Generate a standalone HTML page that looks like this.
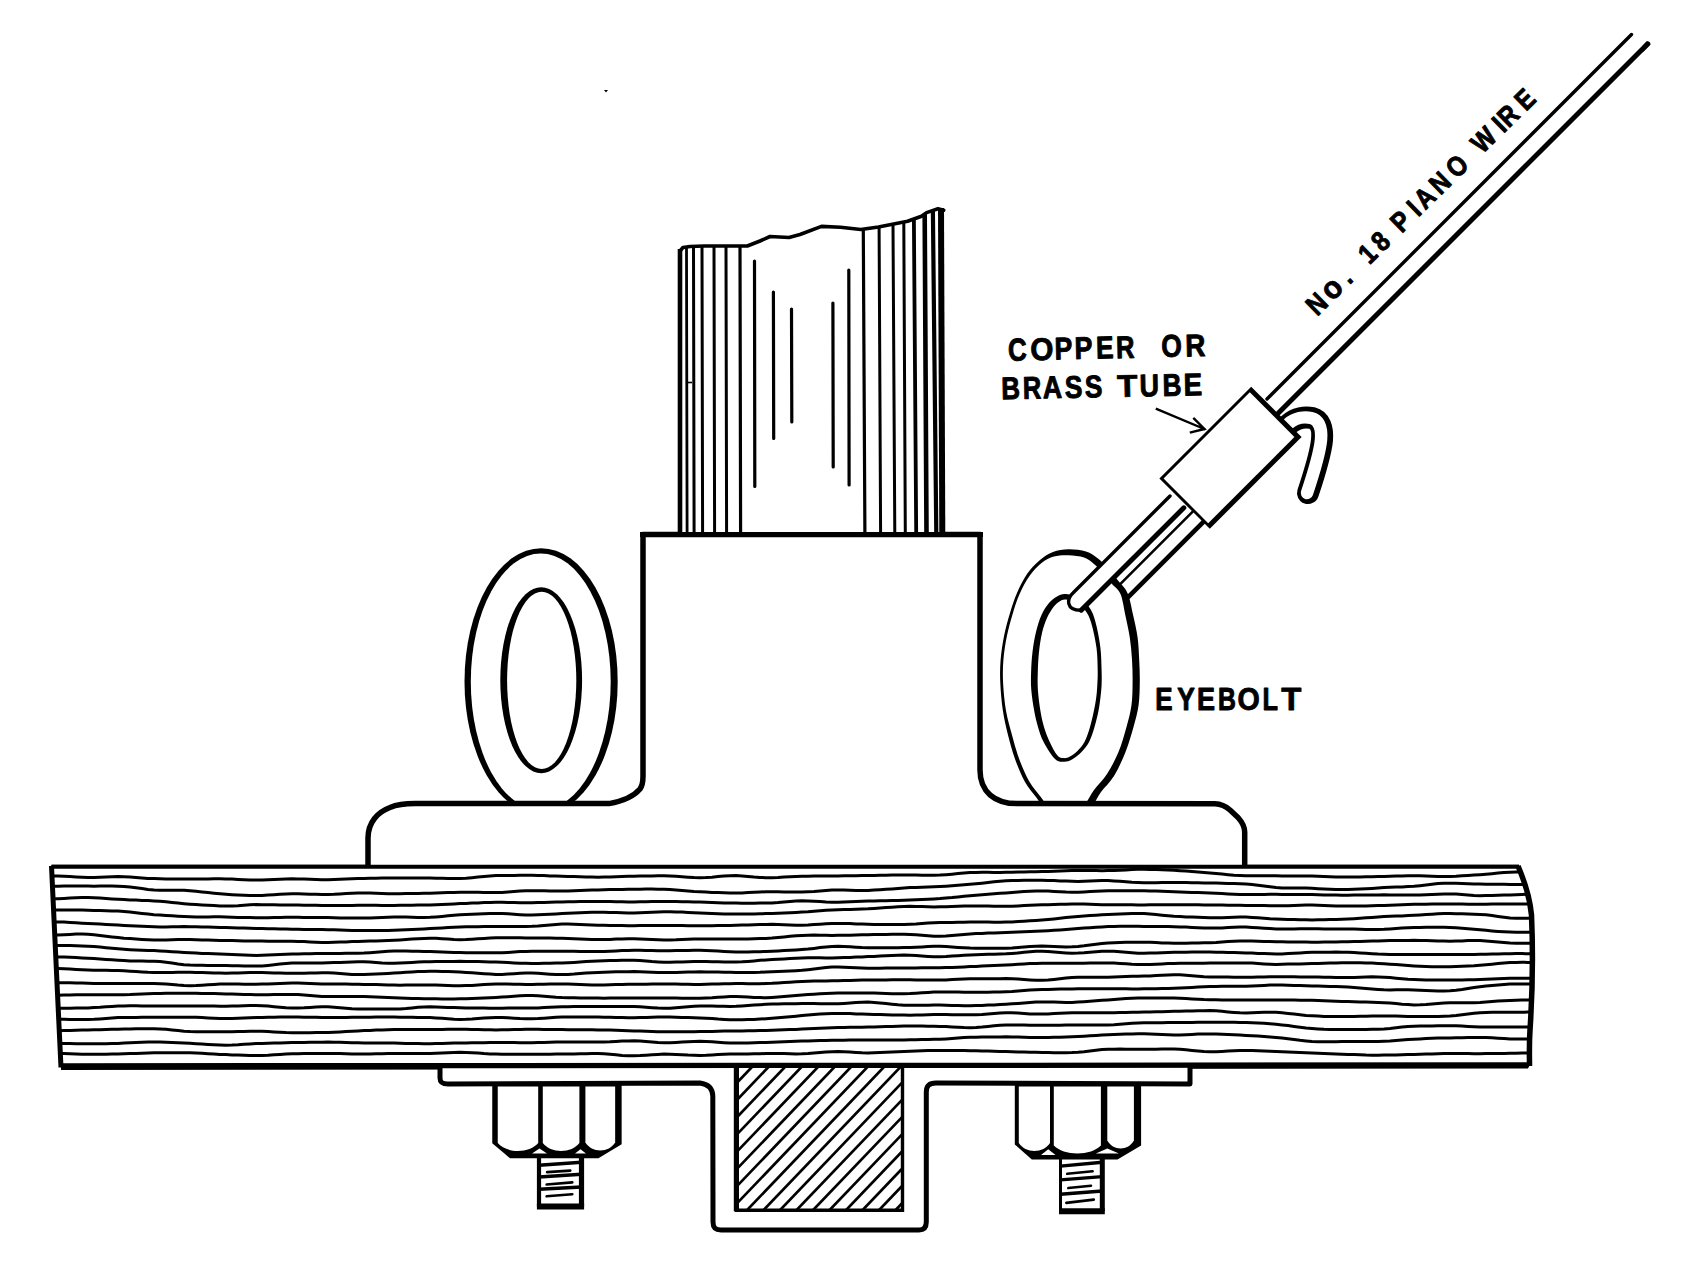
<!DOCTYPE html><html><head><meta charset="utf-8"><title>Eyebolt wire diagram</title><style>html,body{margin:0;padding:0;background:#fff;}svg{display:block;}text{font-family:"Liberation Sans",sans-serif;}</style></head><body><svg width="1694" height="1264" viewBox="0 0 1694 1264"><rect width="1694" height="1264" fill="#fff"/><path d="M51.5,866 L1518,866 C1524,880 1530,898 1531.5,915 C1533,950 1532,1000 1530,1030 C1529,1045 1529.5,1055 1529.5,1066 L61,1067.5 C58,1000 54,930 51.5,866 Z" fill="#fff" stroke="none"/>
<clipPath id="pc"><path d="M51.5,866 L1518,866 C1524,880 1530,898 1531.5,915 C1533,950 1532,1000 1530,1030 C1529,1045 1529.5,1055 1529.5,1066 L61,1067.5 C58,1000 54,930 51.5,866 Z"/></clipPath>
<g clip-path="url(#pc)" fill="none" stroke="#000" stroke-width="3" stroke-linejoin="round"><path d="M40.0,875.9 L46.0,875.9 L52.0,875.9 L58.0,875.9 L64.0,876.2 L70.0,876.5 L76.0,876.9 L82.0,877.2 L88.0,877.4 L94.0,877.4 L100.0,877.2 L106.0,877.0 L112.0,876.7 L118.0,876.6 L124.0,876.8 L130.0,877.1 L136.0,877.5 L142.0,878.0 L148.0,878.4 L154.0,878.6 L160.0,878.8 L166.0,878.9 L172.0,878.9 L178.0,879.0 L184.0,879.0 L190.0,879.0 L196.0,879.0 L202.0,879.0 L208.0,878.9 L214.0,878.8 L220.0,878.8 L226.0,878.9 L232.0,879.1 L238.0,879.4 L244.0,879.7 L250.0,880.0 L256.0,880.1 L262.0,880.1 L268.0,879.8 L274.0,879.5 L280.0,879.2 L286.0,878.9 L292.0,878.8 L298.0,878.9 L304.0,879.1 L310.0,879.3 L316.0,879.5 L322.0,879.7 L328.0,879.7 L334.0,879.5 L340.0,879.3 L346.0,879.0 L352.0,878.7 L358.0,878.5 L364.0,878.4 L370.0,878.3 L376.0,878.3 L382.0,878.1 L388.0,878.0 L394.0,877.9 L400.0,877.9 L406.0,877.9 L412.0,877.9 L418.0,877.9 L424.0,878.0 L430.0,878.1 L436.0,878.2 L442.0,878.3 L448.0,878.4 L454.0,878.4 L460.0,878.4 L466.0,878.2 L472.0,877.7 L478.0,877.1 L484.0,876.5 L490.0,875.9 L496.0,875.6 L502.0,875.5 L508.0,875.4 L514.0,875.4 L520.0,875.3 L526.0,875.3 L532.0,875.3 L538.0,875.4 L544.0,875.6 L550.0,875.9 L556.0,876.1 L562.0,876.3 L568.0,876.4 L574.0,876.6 L580.0,876.8 L586.0,877.0 L592.0,877.1 L598.0,877.2 L604.0,877.1 L610.0,876.9 L616.0,876.7 L622.0,876.5 L628.0,876.3 L634.0,876.2 L640.0,876.0 L646.0,875.9 L652.0,875.9 L658.0,875.8 L664.0,875.8 L670.0,876.0 L676.0,876.3 L682.0,876.7 L688.0,877.2 L694.0,877.6 L700.0,877.8 L706.0,877.6 L712.0,877.2 L718.0,876.6 L724.0,876.1 L730.0,875.7 L736.0,875.6 L742.0,875.9 L748.0,876.4 L754.0,877.0 L760.0,877.4 L766.0,877.7 L772.0,877.7 L778.0,877.5 L784.0,877.1 L790.0,876.8 L796.0,876.4 L802.0,876.3 L808.0,876.2 L814.0,876.1 L820.0,876.0 L826.0,875.9 L832.0,875.9 L838.0,875.9 L844.0,875.8 L850.0,875.8 L856.0,875.7 L862.0,875.6 L868.0,875.5 L874.0,875.4 L880.0,875.3 L886.0,875.2 L892.0,875.1 L898.0,875.0 L904.0,875.0 L910.0,875.0 L916.0,875.0 L922.0,875.2 L928.0,875.3 L934.0,875.3 L940.0,875.1 L946.0,874.7 L952.0,874.2 L958.0,873.6 L964.0,873.0 L970.0,872.5 L976.0,872.4 L982.0,872.3 L988.0,872.3 L994.0,872.4 L1000.0,872.4 L1006.0,872.3 L1012.0,872.2 L1018.0,872.1 L1024.0,871.9 L1030.0,871.8 L1036.0,871.7 L1042.0,871.6 L1048.0,871.5 L1054.0,871.2 L1060.0,871.0 L1066.0,870.7 L1072.0,870.6 L1078.0,870.5 L1084.0,870.5 L1090.0,870.6 L1096.0,870.6 L1102.0,870.7 L1108.0,870.6 L1114.0,870.5 L1120.0,870.2 L1126.0,869.9 L1132.0,869.5 L1138.0,869.3 L1144.0,869.3 L1150.0,869.4 L1156.0,869.5 L1162.0,869.7 L1168.0,870.0 L1174.0,870.3 L1180.0,870.7 L1186.0,871.1 L1192.0,871.5 L1198.0,872.0 L1204.0,872.5 L1210.0,872.9 L1216.0,873.5 L1222.0,874.1 L1228.0,874.7 L1234.0,875.2 L1240.0,875.5 L1246.0,875.7 L1252.0,875.8 L1258.0,875.8 L1264.0,875.8 L1270.0,875.8 L1276.0,875.8 L1282.0,875.9 L1288.0,875.9 L1294.0,876.0 L1300.0,876.0 L1306.0,876.1 L1312.0,876.1 L1318.0,876.3 L1324.0,876.5 L1330.0,876.7 L1336.0,876.9 L1342.0,877.0 L1348.0,877.0 L1354.0,877.0 L1360.0,876.9 L1366.0,876.8 L1372.0,876.7 L1378.0,876.5 L1384.0,876.4 L1390.0,876.3 L1396.0,876.1 L1402.0,876.0 L1408.0,875.8 L1414.0,875.7 L1420.0,875.8 L1426.0,876.0 L1432.0,876.2 L1438.0,876.4 L1444.0,876.5 L1450.0,876.4 L1456.0,876.2 L1462.0,875.8 L1468.0,875.5 L1474.0,875.1 L1480.0,874.7 L1486.0,874.2 L1492.0,873.7 L1498.0,873.1 L1504.0,872.6 L1510.0,872.2 L1516.0,872.0 L1522.0,872.0 L1528.0,872.0 L1534.0,872.2 L1540.0,872.3"/><path d="M40.0,886.0 L46.0,886.1 L52.0,886.2 L58.0,886.2 L64.0,886.1 L70.0,886.1 L76.0,886.1 L82.0,886.1 L88.0,886.1 L94.0,886.2 L100.0,886.1 L106.0,886.1 L112.0,886.1 L118.0,886.3 L124.0,886.6 L130.0,887.1 L136.0,887.8 L142.0,888.6 L148.0,889.4 L154.0,889.9 L160.0,890.2 L166.0,890.3 L172.0,890.2 L178.0,890.2 L184.0,890.3 L190.0,890.7 L196.0,891.3 L202.0,891.9 L208.0,892.6 L214.0,893.2 L220.0,893.8 L226.0,894.3 L232.0,894.7 L238.0,895.0 L244.0,895.2 L250.0,895.4 L256.0,895.5 L262.0,895.4 L268.0,895.1 L274.0,894.7 L280.0,894.3 L286.0,893.9 L292.0,893.8 L298.0,893.8 L304.0,894.0 L310.0,894.2 L316.0,894.3 L322.0,894.5 L328.0,894.4 L334.0,894.3 L340.0,893.9 L346.0,893.6 L352.0,893.2 L358.0,893.0 L364.0,892.9 L370.0,893.1 L376.0,893.3 L382.0,893.6 L388.0,893.8 L394.0,893.8 L400.0,893.7 L406.0,893.6 L412.0,893.5 L418.0,893.4 L424.0,893.3 L430.0,893.2 L436.0,893.0 L442.0,892.8 L448.0,892.6 L454.0,892.4 L460.0,892.2 L466.0,892.2 L472.0,892.2 L478.0,892.3 L484.0,892.5 L490.0,892.6 L496.0,892.6 L502.0,892.4 L508.0,892.0 L514.0,891.6 L520.0,891.1 L526.0,890.8 L532.0,890.7 L538.0,890.7 L544.0,890.8 L550.0,891.0 L556.0,891.1 L562.0,891.1 L568.0,890.9 L574.0,890.7 L580.0,890.5 L586.0,890.3 L592.0,890.0 L598.0,889.9 L604.0,889.7 L610.0,889.6 L616.0,889.5 L622.0,889.4 L628.0,889.3 L634.0,889.2 L640.0,889.2 L646.0,889.1 L652.0,889.1 L658.0,889.2 L664.0,889.3 L670.0,889.5 L676.0,889.9 L682.0,890.4 L688.0,890.9 L694.0,891.4 L700.0,891.7 L706.0,892.1 L712.0,892.4 L718.0,892.6 L724.0,892.8 L730.0,893.0 L736.0,893.0 L742.0,892.9 L748.0,892.6 L754.0,892.3 L760.0,892.0 L766.0,891.8 L772.0,891.7 L778.0,891.8 L784.0,891.9 L790.0,891.9 L796.0,892.0 L802.0,891.9 L808.0,891.7 L814.0,891.4 L820.0,890.9 L826.0,890.4 L832.0,890.0 L838.0,889.9 L844.0,890.0 L850.0,890.2 L856.0,890.5 L862.0,890.6 L868.0,890.5 L874.0,890.1 L880.0,889.7 L886.0,889.3 L892.0,888.9 L898.0,888.4 L904.0,888.0 L910.0,887.6 L916.0,887.4 L922.0,887.2 L928.0,887.0 L934.0,886.8 L940.0,886.5 L946.0,886.2 L952.0,885.8 L958.0,885.3 L964.0,884.8 L970.0,884.3 L976.0,883.8 L982.0,883.2 L988.0,882.5 L994.0,881.8 L1000.0,881.2 L1006.0,880.8 L1012.0,880.6 L1018.0,880.4 L1024.0,880.2 L1030.0,880.2 L1036.0,880.2 L1042.0,880.2 L1048.0,880.4 L1054.0,880.6 L1060.0,880.9 L1066.0,881.1 L1072.0,881.3 L1078.0,881.4 L1084.0,881.2 L1090.0,881.0 L1096.0,880.7 L1102.0,880.6 L1108.0,880.6 L1114.0,880.9 L1120.0,881.3 L1126.0,881.7 L1132.0,882.2 L1138.0,882.5 L1144.0,882.7 L1150.0,882.7 L1156.0,882.7 L1162.0,882.6 L1168.0,882.5 L1174.0,882.5 L1180.0,882.6 L1186.0,882.6 L1192.0,882.7 L1198.0,882.8 L1204.0,882.9 L1210.0,883.0 L1216.0,883.1 L1222.0,883.3 L1228.0,883.4 L1234.0,883.5 L1240.0,883.7 L1246.0,883.9 L1252.0,884.4 L1258.0,885.2 L1264.0,886.0 L1270.0,886.8 L1276.0,887.5 L1282.0,887.9 L1288.0,888.1 L1294.0,888.1 L1300.0,888.1 L1306.0,888.1 L1312.0,888.3 L1318.0,888.7 L1324.0,889.0 L1330.0,889.2 L1336.0,889.4 L1342.0,889.5 L1348.0,889.5 L1354.0,889.3 L1360.0,889.1 L1366.0,888.8 L1372.0,888.4 L1378.0,888.0 L1384.0,887.6 L1390.0,887.3 L1396.0,887.1 L1402.0,886.9 L1408.0,886.6 L1414.0,886.3 L1420.0,885.7 L1426.0,885.0 L1432.0,884.3 L1438.0,883.6 L1444.0,883.3 L1450.0,883.2 L1456.0,883.3 L1462.0,883.5 L1468.0,883.8 L1474.0,884.0 L1480.0,884.1 L1486.0,884.2 L1492.0,884.3 L1498.0,884.3 L1504.0,884.3 L1510.0,884.4 L1516.0,884.4 L1522.0,884.5 L1528.0,884.6 L1534.0,884.8 L1540.0,885.0"/><path d="M40.0,898.7 L46.0,898.7 L52.0,898.7 L58.0,898.7 L64.0,898.4 L70.0,898.1 L76.0,897.7 L82.0,897.5 L88.0,897.6 L94.0,897.8 L100.0,898.1 L106.0,898.5 L112.0,898.9 L118.0,899.2 L124.0,899.6 L130.0,899.9 L136.0,900.1 L142.0,900.4 L148.0,900.6 L154.0,900.9 L160.0,901.2 L166.0,901.7 L172.0,902.4 L178.0,903.1 L184.0,903.7 L190.0,904.2 L196.0,904.6 L202.0,904.9 L208.0,905.3 L214.0,905.6 L220.0,905.9 L226.0,906.1 L232.0,906.0 L238.0,905.7 L244.0,905.2 L250.0,904.8 L256.0,904.6 L262.0,904.7 L268.0,904.7 L274.0,904.8 L280.0,904.9 L286.0,905.0 L292.0,905.0 L298.0,905.1 L304.0,905.2 L310.0,905.3 L316.0,905.3 L322.0,905.4 L328.0,905.4 L334.0,905.4 L340.0,905.4 L346.0,905.4 L352.0,905.4 L358.0,905.3 L364.0,905.3 L370.0,905.3 L376.0,905.3 L382.0,905.4 L388.0,905.4 L394.0,905.4 L400.0,905.3 L406.0,905.3 L412.0,905.2 L418.0,905.1 L424.0,905.0 L430.0,904.9 L436.0,904.7 L442.0,904.5 L448.0,904.2 L454.0,903.9 L460.0,903.6 L466.0,903.4 L472.0,903.1 L478.0,902.9 L484.0,902.6 L490.0,902.4 L496.0,902.3 L502.0,902.3 L508.0,902.4 L514.0,902.6 L520.0,902.7 L526.0,902.8 L532.0,902.7 L538.0,902.6 L544.0,902.5 L550.0,902.3 L556.0,902.1 L562.0,902.0 L568.0,901.8 L574.0,901.7 L580.0,901.6 L586.0,901.6 L592.0,901.5 L598.0,901.5 L604.0,901.5 L610.0,901.6 L616.0,901.7 L622.0,901.8 L628.0,901.9 L634.0,901.9 L640.0,901.8 L646.0,901.7 L652.0,901.6 L658.0,901.5 L664.0,901.5 L670.0,901.6 L676.0,901.6 L682.0,901.7 L688.0,901.8 L694.0,901.9 L700.0,902.1 L706.0,902.3 L712.0,902.5 L718.0,902.7 L724.0,902.9 L730.0,903.0 L736.0,903.1 L742.0,903.2 L748.0,903.2 L754.0,903.2 L760.0,903.1 L766.0,903.1 L772.0,902.9 L778.0,902.6 L784.0,902.1 L790.0,901.5 L796.0,901.1 L802.0,900.8 L808.0,900.9 L814.0,901.2 L820.0,901.6 L826.0,902.0 L832.0,902.2 L838.0,902.2 L844.0,902.0 L850.0,901.8 L856.0,901.6 L862.0,901.3 L868.0,901.1 L874.0,900.9 L880.0,900.8 L886.0,900.7 L892.0,900.5 L898.0,900.4 L904.0,900.2 L910.0,900.0 L916.0,899.7 L922.0,899.5 L928.0,899.2 L934.0,898.9 L940.0,898.6 L946.0,898.1 L952.0,897.6 L958.0,896.9 L964.0,896.3 L970.0,895.7 L976.0,895.2 L982.0,894.7 L988.0,894.2 L994.0,893.8 L1000.0,893.3 L1006.0,892.9 L1012.0,892.5 L1018.0,892.0 L1024.0,891.5 L1030.0,891.2 L1036.0,890.9 L1042.0,890.9 L1048.0,891.1 L1054.0,891.4 L1060.0,891.7 L1066.0,892.1 L1072.0,892.2 L1078.0,892.2 L1084.0,891.9 L1090.0,891.6 L1096.0,891.2 L1102.0,890.9 L1108.0,890.8 L1114.0,890.8 L1120.0,890.8 L1126.0,890.8 L1132.0,890.8 L1138.0,890.8 L1144.0,890.8 L1150.0,890.9 L1156.0,891.1 L1162.0,891.3 L1168.0,891.5 L1174.0,891.8 L1180.0,892.0 L1186.0,892.2 L1192.0,892.4 L1198.0,892.6 L1204.0,892.8 L1210.0,893.0 L1216.0,893.3 L1222.0,893.6 L1228.0,893.9 L1234.0,894.2 L1240.0,894.4 L1246.0,894.5 L1252.0,894.5 L1258.0,894.5 L1264.0,894.4 L1270.0,894.3 L1276.0,894.3 L1282.0,894.4 L1288.0,894.4 L1294.0,894.5 L1300.0,894.5 L1306.0,894.6 L1312.0,894.6 L1318.0,894.7 L1324.0,894.9 L1330.0,895.0 L1336.0,895.1 L1342.0,895.2 L1348.0,895.2 L1354.0,895.1 L1360.0,895.1 L1366.0,895.0 L1372.0,894.9 L1378.0,894.9 L1384.0,894.8 L1390.0,894.9 L1396.0,895.0 L1402.0,895.1 L1408.0,895.1 L1414.0,895.1 L1420.0,895.0 L1426.0,894.7 L1432.0,894.4 L1438.0,894.2 L1444.0,894.0 L1450.0,893.9 L1456.0,894.1 L1462.0,894.5 L1468.0,895.0 L1474.0,895.5 L1480.0,895.7 L1486.0,895.6 L1492.0,895.5 L1498.0,895.3 L1504.0,895.1 L1510.0,894.9 L1516.0,894.7 L1522.0,894.5 L1528.0,894.3 L1534.0,894.1 L1540.0,893.9"/><path d="M40.0,909.8 L46.0,909.9 L52.0,909.9 L58.0,909.9 L64.0,909.9 L70.0,909.9 L76.0,910.0 L82.0,910.1 L88.0,910.3 L94.0,910.5 L100.0,910.6 L106.0,910.7 L112.0,910.9 L118.0,911.1 L124.0,911.4 L130.0,912.0 L136.0,912.7 L142.0,913.4 L148.0,914.1 L154.0,914.7 L160.0,915.1 L166.0,915.5 L172.0,915.8 L178.0,916.2 L184.0,916.5 L190.0,916.8 L196.0,917.0 L202.0,917.0 L208.0,916.9 L214.0,916.8 L220.0,916.8 L226.0,917.0 L232.0,917.2 L238.0,917.4 L244.0,917.5 L250.0,917.6 L256.0,917.7 L262.0,917.8 L268.0,917.7 L274.0,917.6 L280.0,917.4 L286.0,917.3 L292.0,917.3 L298.0,917.3 L304.0,917.4 L310.0,917.5 L316.0,917.5 L322.0,917.6 L328.0,917.6 L334.0,917.8 L340.0,917.9 L346.0,918.1 L352.0,918.1 L358.0,918.1 L364.0,918.0 L370.0,917.9 L376.0,917.7 L382.0,917.5 L388.0,917.2 L394.0,917.0 L400.0,917.0 L406.0,917.1 L412.0,917.2 L418.0,917.4 L424.0,917.5 L430.0,917.3 L436.0,916.9 L442.0,916.4 L448.0,915.8 L454.0,915.3 L460.0,914.8 L466.0,914.5 L472.0,914.3 L478.0,914.0 L484.0,913.8 L490.0,913.6 L496.0,913.4 L502.0,913.4 L508.0,913.8 L514.0,914.3 L520.0,914.7 L526.0,915.0 L532.0,915.0 L538.0,914.8 L544.0,914.5 L550.0,914.2 L556.0,913.9 L562.0,913.6 L568.0,913.3 L574.0,913.0 L580.0,912.7 L586.0,912.5 L592.0,912.3 L598.0,912.2 L604.0,912.2 L610.0,912.4 L616.0,912.6 L622.0,912.8 L628.0,913.0 L634.0,913.0 L640.0,912.8 L646.0,912.5 L652.0,912.2 L658.0,911.9 L664.0,911.7 L670.0,911.7 L676.0,911.9 L682.0,912.1 L688.0,912.4 L694.0,912.7 L700.0,913.0 L706.0,913.2 L712.0,913.5 L718.0,913.8 L724.0,914.0 L730.0,914.1 L736.0,914.1 L742.0,914.1 L748.0,914.0 L754.0,913.9 L760.0,913.8 L766.0,913.6 L772.0,913.4 L778.0,913.2 L784.0,913.0 L790.0,912.7 L796.0,912.4 L802.0,912.1 L808.0,911.8 L814.0,911.3 L820.0,910.8 L826.0,910.3 L832.0,910.0 L838.0,909.7 L844.0,909.6 L850.0,909.4 L856.0,909.2 L862.0,909.0 L868.0,908.8 L874.0,908.4 L880.0,908.0 L886.0,907.6 L892.0,907.2 L898.0,906.8 L904.0,906.4 L910.0,906.3 L916.0,906.4 L922.0,906.5 L928.0,906.7 L934.0,906.9 L940.0,906.8 L946.0,906.7 L952.0,906.4 L958.0,906.2 L964.0,906.0 L970.0,905.9 L976.0,905.9 L982.0,905.9 L988.0,906.1 L994.0,906.2 L1000.0,906.3 L1006.0,906.3 L1012.0,906.2 L1018.0,905.9 L1024.0,905.6 L1030.0,905.3 L1036.0,905.0 L1042.0,904.8 L1048.0,904.7 L1054.0,904.5 L1060.0,904.3 L1066.0,904.2 L1072.0,904.0 L1078.0,903.9 L1084.0,904.0 L1090.0,904.2 L1096.0,904.5 L1102.0,904.7 L1108.0,904.8 L1114.0,904.8 L1120.0,904.8 L1126.0,904.8 L1132.0,904.8 L1138.0,904.9 L1144.0,904.9 L1150.0,904.8 L1156.0,904.8 L1162.0,904.7 L1168.0,904.7 L1174.0,904.7 L1180.0,904.7 L1186.0,904.7 L1192.0,904.8 L1198.0,904.8 L1204.0,904.9 L1210.0,904.9 L1216.0,905.0 L1222.0,905.1 L1228.0,905.2 L1234.0,905.3 L1240.0,905.3 L1246.0,905.4 L1252.0,905.5 L1258.0,905.6 L1264.0,905.6 L1270.0,905.7 L1276.0,905.8 L1282.0,905.8 L1288.0,905.7 L1294.0,905.5 L1300.0,905.3 L1306.0,905.1 L1312.0,905.1 L1318.0,905.3 L1324.0,905.5 L1330.0,905.8 L1336.0,906.0 L1342.0,906.1 L1348.0,906.1 L1354.0,906.1 L1360.0,906.0 L1366.0,905.9 L1372.0,905.7 L1378.0,905.6 L1384.0,905.4 L1390.0,905.2 L1396.0,904.9 L1402.0,904.7 L1408.0,904.5 L1414.0,904.3 L1420.0,904.3 L1426.0,904.2 L1432.0,904.1 L1438.0,904.1 L1444.0,904.0 L1450.0,904.0 L1456.0,904.0 L1462.0,904.1 L1468.0,904.2 L1474.0,904.2 L1480.0,904.2 L1486.0,904.2 L1492.0,904.1 L1498.0,904.0 L1504.0,904.0 L1510.0,903.9 L1516.0,903.9 L1522.0,903.9 L1528.0,904.1 L1534.0,904.3 L1540.0,904.5"/><path d="M40.0,922.1 L46.0,921.9 L52.0,921.9 L58.0,921.9 L64.0,922.1 L70.0,922.4 L76.0,922.8 L82.0,923.2 L88.0,923.5 L94.0,923.8 L100.0,924.1 L106.0,924.4 L112.0,924.7 L118.0,925.0 L124.0,925.4 L130.0,925.7 L136.0,926.0 L142.0,926.3 L148.0,926.5 L154.0,926.7 L160.0,926.9 L166.0,926.9 L172.0,926.8 L178.0,926.7 L184.0,926.6 L190.0,926.7 L196.0,926.8 L202.0,927.0 L208.0,927.1 L214.0,927.3 L220.0,927.5 L226.0,927.6 L232.0,927.8 L238.0,928.0 L244.0,928.1 L250.0,928.3 L256.0,928.4 L262.0,928.6 L268.0,928.7 L274.0,928.8 L280.0,928.9 L286.0,929.1 L292.0,929.2 L298.0,929.3 L304.0,929.4 L310.0,929.5 L316.0,929.6 L322.0,929.6 L328.0,929.7 L334.0,929.8 L340.0,930.1 L346.0,930.3 L352.0,930.5 L358.0,930.6 L364.0,930.6 L370.0,930.6 L376.0,930.6 L382.0,930.5 L388.0,930.4 L394.0,930.2 L400.0,930.0 L406.0,929.7 L412.0,929.4 L418.0,929.2 L424.0,928.9 L430.0,928.6 L436.0,928.3 L442.0,928.0 L448.0,927.6 L454.0,927.2 L460.0,927.0 L466.0,926.8 L472.0,926.7 L478.0,926.7 L484.0,926.6 L490.0,926.6 L496.0,926.6 L502.0,926.5 L508.0,926.5 L514.0,926.5 L520.0,926.4 L526.0,926.4 L532.0,926.3 L538.0,926.0 L544.0,925.5 L550.0,924.9 L556.0,924.4 L562.0,924.1 L568.0,924.1 L574.0,924.2 L580.0,924.5 L586.0,924.8 L592.0,925.0 L598.0,925.2 L604.0,925.3 L610.0,925.4 L616.0,925.5 L622.0,925.6 L628.0,925.7 L634.0,925.7 L640.0,925.6 L646.0,925.6 L652.0,925.5 L658.0,925.5 L664.0,925.5 L670.0,925.5 L676.0,925.5 L682.0,925.6 L688.0,925.7 L694.0,925.7 L700.0,925.8 L706.0,925.8 L712.0,925.7 L718.0,925.6 L724.0,925.5 L730.0,925.4 L736.0,925.3 L742.0,925.1 L748.0,924.9 L754.0,924.7 L760.0,924.5 L766.0,924.4 L772.0,924.3 L778.0,924.5 L784.0,924.8 L790.0,925.0 L796.0,925.2 L802.0,925.2 L808.0,925.0 L814.0,924.6 L820.0,924.2 L826.0,923.8 L832.0,923.5 L838.0,923.4 L844.0,923.5 L850.0,923.6 L856.0,923.9 L862.0,924.1 L868.0,924.3 L874.0,924.4 L880.0,924.4 L886.0,924.5 L892.0,924.5 L898.0,924.5 L904.0,924.5 L910.0,924.3 L916.0,924.0 L922.0,923.5 L928.0,923.1 L934.0,922.8 L940.0,922.6 L946.0,922.5 L952.0,922.4 L958.0,922.3 L964.0,922.2 L970.0,922.0 L976.0,921.9 L982.0,921.9 L988.0,922.1 L994.0,922.2 L1000.0,922.3 L1006.0,922.1 L1012.0,921.9 L1018.0,921.6 L1024.0,921.2 L1030.0,920.8 L1036.0,920.4 L1042.0,920.0 L1048.0,919.5 L1054.0,918.9 L1060.0,918.2 L1066.0,917.5 L1072.0,916.9 L1078.0,916.5 L1084.0,916.1 L1090.0,915.6 L1096.0,915.2 L1102.0,914.8 L1108.0,914.5 L1114.0,914.2 L1120.0,914.0 L1126.0,913.8 L1132.0,913.6 L1138.0,913.6 L1144.0,913.6 L1150.0,914.0 L1156.0,914.5 L1162.0,915.2 L1168.0,915.8 L1174.0,916.3 L1180.0,916.6 L1186.0,916.9 L1192.0,917.1 L1198.0,917.3 L1204.0,917.6 L1210.0,917.8 L1216.0,917.8 L1222.0,917.7 L1228.0,917.5 L1234.0,917.2 L1240.0,917.0 L1246.0,917.1 L1252.0,917.4 L1258.0,917.8 L1264.0,918.3 L1270.0,918.8 L1276.0,919.1 L1282.0,919.3 L1288.0,919.5 L1294.0,919.6 L1300.0,919.7 L1306.0,919.8 L1312.0,919.9 L1318.0,919.8 L1324.0,919.7 L1330.0,919.6 L1336.0,919.4 L1342.0,919.2 L1348.0,919.0 L1354.0,918.7 L1360.0,918.3 L1366.0,917.8 L1372.0,917.4 L1378.0,917.0 L1384.0,916.6 L1390.0,916.3 L1396.0,916.1 L1402.0,915.9 L1408.0,915.6 L1414.0,915.3 L1420.0,915.0 L1426.0,914.6 L1432.0,914.2 L1438.0,913.8 L1444.0,913.6 L1450.0,913.6 L1456.0,913.7 L1462.0,913.8 L1468.0,914.0 L1474.0,914.2 L1480.0,914.5 L1486.0,914.8 L1492.0,915.5 L1498.0,916.4 L1504.0,917.2 L1510.0,917.9 L1516.0,918.2 L1522.0,918.2 L1528.0,918.2 L1534.0,918.1 L1540.0,917.9"/><path d="M40.0,934.8 L46.0,934.9 L52.0,934.9 L58.0,934.9 L64.0,934.7 L70.0,934.4 L76.0,934.1 L82.0,934.1 L88.0,934.3 L94.0,934.8 L100.0,935.4 L106.0,936.2 L112.0,936.9 L118.0,937.6 L124.0,938.2 L130.0,938.6 L136.0,939.0 L142.0,939.4 L148.0,939.7 L154.0,939.9 L160.0,940.0 L166.0,939.9 L172.0,939.8 L178.0,939.6 L184.0,939.4 L190.0,939.5 L196.0,939.7 L202.0,939.9 L208.0,940.1 L214.0,940.2 L220.0,940.4 L226.0,940.5 L232.0,940.6 L238.0,940.8 L244.0,940.9 L250.0,941.0 L256.0,941.0 L262.0,941.1 L268.0,941.2 L274.0,941.2 L280.0,941.2 L286.0,941.2 L292.0,941.3 L298.0,941.4 L304.0,941.6 L310.0,941.9 L316.0,942.2 L322.0,942.4 L328.0,942.4 L334.0,942.3 L340.0,942.1 L346.0,941.9 L352.0,941.6 L358.0,941.4 L364.0,941.2 L370.0,941.1 L376.0,940.9 L382.0,940.8 L388.0,940.6 L394.0,940.3 L400.0,940.0 L406.0,939.6 L412.0,939.1 L418.0,938.7 L424.0,938.4 L430.0,938.2 L436.0,938.3 L442.0,938.7 L448.0,939.1 L454.0,939.5 L460.0,939.7 L466.0,939.6 L472.0,939.2 L478.0,938.8 L484.0,938.4 L490.0,938.0 L496.0,937.8 L502.0,937.8 L508.0,937.8 L514.0,937.8 L520.0,937.8 L526.0,937.9 L532.0,937.9 L538.0,938.0 L544.0,938.0 L550.0,938.1 L556.0,938.2 L562.0,938.3 L568.0,938.5 L574.0,938.7 L580.0,939.0 L586.0,939.2 L592.0,939.5 L598.0,939.6 L604.0,939.6 L610.0,939.4 L616.0,939.1 L622.0,938.9 L628.0,938.7 L634.0,938.7 L640.0,938.9 L646.0,939.2 L652.0,939.5 L658.0,939.8 L664.0,940.0 L670.0,939.9 L676.0,939.8 L682.0,939.5 L688.0,939.2 L694.0,939.0 L700.0,938.9 L706.0,938.9 L712.0,938.9 L718.0,938.9 L724.0,939.0 L730.0,939.0 L736.0,939.0 L742.0,939.0 L748.0,938.9 L754.0,938.8 L760.0,938.6 L766.0,938.4 L772.0,938.1 L778.0,937.6 L784.0,937.0 L790.0,936.3 L796.0,935.8 L802.0,935.4 L808.0,935.2 L814.0,935.1 L820.0,935.2 L826.0,935.3 L832.0,935.4 L838.0,935.3 L844.0,935.3 L850.0,935.2 L856.0,935.0 L862.0,934.8 L868.0,934.7 L874.0,934.6 L880.0,934.5 L886.0,934.4 L892.0,934.3 L898.0,934.2 L904.0,934.2 L910.0,934.4 L916.0,934.8 L922.0,935.3 L928.0,935.8 L934.0,936.2 L940.0,936.3 L946.0,936.0 L952.0,935.5 L958.0,935.0 L964.0,934.4 L970.0,933.9 L976.0,933.6 L982.0,933.4 L988.0,933.1 L994.0,932.9 L1000.0,932.7 L1006.0,932.5 L1012.0,932.2 L1018.0,932.0 L1024.0,931.7 L1030.0,931.5 L1036.0,931.3 L1042.0,931.0 L1048.0,930.7 L1054.0,930.3 L1060.0,929.9 L1066.0,929.4 L1072.0,929.0 L1078.0,928.6 L1084.0,928.1 L1090.0,927.7 L1096.0,927.2 L1102.0,926.9 L1108.0,926.6 L1114.0,926.4 L1120.0,926.3 L1126.0,926.3 L1132.0,926.3 L1138.0,926.3 L1144.0,926.4 L1150.0,926.4 L1156.0,926.5 L1162.0,926.5 L1168.0,926.6 L1174.0,926.8 L1180.0,926.9 L1186.0,927.1 L1192.0,927.4 L1198.0,927.7 L1204.0,927.9 L1210.0,928.1 L1216.0,928.1 L1222.0,927.9 L1228.0,927.6 L1234.0,927.2 L1240.0,927.0 L1246.0,927.1 L1252.0,927.4 L1258.0,927.7 L1264.0,928.2 L1270.0,928.6 L1276.0,928.9 L1282.0,929.0 L1288.0,928.9 L1294.0,928.9 L1300.0,928.8 L1306.0,928.7 L1312.0,928.7 L1318.0,928.8 L1324.0,928.9 L1330.0,928.9 L1336.0,929.0 L1342.0,929.0 L1348.0,929.0 L1354.0,929.1 L1360.0,929.3 L1366.0,929.4 L1372.0,929.5 L1378.0,929.5 L1384.0,929.3 L1390.0,928.9 L1396.0,928.5 L1402.0,928.1 L1408.0,927.8 L1414.0,927.5 L1420.0,927.4 L1426.0,927.3 L1432.0,927.2 L1438.0,927.2 L1444.0,927.3 L1450.0,927.5 L1456.0,927.8 L1462.0,928.2 L1468.0,928.7 L1474.0,929.2 L1480.0,929.8 L1486.0,930.3 L1492.0,930.9 L1498.0,931.4 L1504.0,931.8 L1510.0,932.1 L1516.0,932.3 L1522.0,932.3 L1528.0,932.2 L1534.0,932.0 L1540.0,931.7"/><path d="M40.0,945.7 L46.0,945.6 L52.0,945.6 L58.0,945.6 L64.0,945.6 L70.0,945.6 L76.0,945.7 L82.0,945.9 L88.0,946.2 L94.0,946.6 L100.0,947.1 L106.0,947.7 L112.0,948.2 L118.0,948.8 L124.0,949.3 L130.0,949.7 L136.0,950.0 L142.0,950.2 L148.0,950.4 L154.0,950.6 L160.0,951.0 L166.0,951.3 L172.0,951.7 L178.0,952.1 L184.0,952.5 L190.0,952.8 L196.0,953.1 L202.0,953.4 L208.0,953.6 L214.0,953.8 L220.0,954.0 L226.0,954.2 L232.0,954.4 L238.0,954.8 L244.0,955.1 L250.0,955.3 L256.0,955.4 L262.0,955.3 L268.0,955.1 L274.0,954.8 L280.0,954.5 L286.0,954.2 L292.0,954.0 L298.0,953.9 L304.0,953.8 L310.0,953.7 L316.0,953.6 L322.0,953.6 L328.0,953.5 L334.0,953.4 L340.0,953.4 L346.0,953.3 L352.0,953.3 L358.0,953.2 L364.0,953.1 L370.0,952.7 L376.0,952.2 L382.0,951.7 L388.0,951.2 L394.0,951.0 L400.0,951.0 L406.0,951.1 L412.0,951.2 L418.0,951.3 L424.0,951.5 L430.0,951.6 L436.0,951.8 L442.0,952.0 L448.0,952.3 L454.0,952.5 L460.0,952.6 L466.0,952.7 L472.0,952.7 L478.0,952.8 L484.0,952.8 L490.0,952.8 L496.0,952.8 L502.0,952.7 L508.0,952.4 L514.0,952.0 L520.0,951.6 L526.0,951.4 L532.0,951.3 L538.0,951.3 L544.0,951.3 L550.0,951.3 L556.0,951.3 L562.0,951.2 L568.0,951.2 L574.0,951.3 L580.0,951.4 L586.0,951.5 L592.0,951.6 L598.0,951.6 L604.0,951.4 L610.0,951.2 L616.0,950.9 L622.0,950.6 L628.0,950.4 L634.0,950.3 L640.0,950.3 L646.0,950.4 L652.0,950.6 L658.0,950.7 L664.0,950.7 L670.0,950.7 L676.0,950.6 L682.0,950.5 L688.0,950.4 L694.0,950.3 L700.0,950.3 L706.0,950.4 L712.0,950.7 L718.0,951.1 L724.0,951.4 L730.0,951.7 L736.0,951.9 L742.0,951.9 L748.0,951.9 L754.0,951.8 L760.0,951.7 L766.0,951.4 L772.0,951.2 L778.0,950.9 L784.0,950.6 L790.0,950.3 L796.0,950.0 L802.0,949.6 L808.0,949.1 L814.0,948.4 L820.0,947.6 L826.0,946.9 L832.0,946.5 L838.0,946.3 L844.0,946.5 L850.0,946.8 L856.0,947.2 L862.0,947.6 L868.0,947.7 L874.0,947.8 L880.0,947.7 L886.0,947.7 L892.0,947.7 L898.0,947.7 L904.0,947.6 L910.0,947.5 L916.0,947.2 L922.0,946.9 L928.0,946.5 L934.0,946.3 L940.0,946.3 L946.0,946.5 L952.0,946.9 L958.0,947.4 L964.0,947.8 L970.0,948.1 L976.0,948.2 L982.0,948.2 L988.0,948.2 L994.0,948.3 L1000.0,948.3 L1006.0,948.2 L1012.0,948.0 L1018.0,947.6 L1024.0,947.1 L1030.0,946.5 L1036.0,946.2 L1042.0,946.1 L1048.0,946.2 L1054.0,946.5 L1060.0,946.7 L1066.0,946.9 L1072.0,946.8 L1078.0,946.4 L1084.0,945.8 L1090.0,945.0 L1096.0,944.3 L1102.0,943.6 L1108.0,943.1 L1114.0,942.8 L1120.0,942.5 L1126.0,942.3 L1132.0,942.2 L1138.0,942.2 L1144.0,942.2 L1150.0,942.3 L1156.0,942.6 L1162.0,942.9 L1168.0,943.1 L1174.0,943.2 L1180.0,943.2 L1186.0,943.2 L1192.0,943.1 L1198.0,943.0 L1204.0,942.8 L1210.0,942.7 L1216.0,942.5 L1222.0,942.1 L1228.0,941.6 L1234.0,941.2 L1240.0,941.0 L1246.0,940.9 L1252.0,941.0 L1258.0,941.2 L1264.0,941.4 L1270.0,941.6 L1276.0,941.7 L1282.0,941.8 L1288.0,941.9 L1294.0,942.0 L1300.0,942.1 L1306.0,942.1 L1312.0,942.2 L1318.0,942.2 L1324.0,942.1 L1330.0,942.0 L1336.0,941.9 L1342.0,941.8 L1348.0,941.7 L1354.0,941.6 L1360.0,941.4 L1366.0,941.2 L1372.0,941.0 L1378.0,940.9 L1384.0,940.7 L1390.0,940.6 L1396.0,940.5 L1402.0,940.4 L1408.0,940.4 L1414.0,940.3 L1420.0,940.4 L1426.0,940.5 L1432.0,940.7 L1438.0,940.9 L1444.0,941.1 L1450.0,941.2 L1456.0,941.1 L1462.0,940.9 L1468.0,940.6 L1474.0,940.5 L1480.0,940.5 L1486.0,940.9 L1492.0,941.4 L1498.0,942.0 L1504.0,942.5 L1510.0,943.0 L1516.0,943.2 L1522.0,943.2 L1528.0,943.2 L1534.0,943.2 L1540.0,943.1"/><path d="M40.0,956.5 L46.0,956.7 L52.0,956.8 L58.0,957.0 L64.0,957.1 L70.0,957.3 L76.0,957.6 L82.0,957.9 L88.0,958.3 L94.0,958.6 L100.0,959.0 L106.0,959.4 L112.0,959.8 L118.0,960.2 L124.0,960.6 L130.0,960.9 L136.0,961.0 L142.0,961.1 L148.0,961.2 L154.0,961.3 L160.0,961.6 L166.0,962.3 L172.0,963.1 L178.0,964.0 L184.0,964.7 L190.0,965.1 L196.0,965.3 L202.0,965.3 L208.0,965.4 L214.0,965.4 L220.0,965.5 L226.0,965.5 L232.0,965.7 L238.0,965.8 L244.0,965.9 L250.0,966.0 L256.0,966.0 L262.0,965.9 L268.0,965.4 L274.0,964.8 L280.0,964.1 L286.0,963.5 L292.0,963.1 L298.0,963.0 L304.0,963.0 L310.0,963.0 L316.0,962.9 L322.0,962.9 L328.0,962.8 L334.0,962.6 L340.0,962.4 L346.0,962.2 L352.0,961.9 L358.0,961.8 L364.0,961.8 L370.0,962.0 L376.0,962.4 L382.0,962.9 L388.0,963.2 L394.0,963.3 L400.0,963.1 L406.0,962.8 L412.0,962.5 L418.0,962.1 L424.0,961.8 L430.0,961.7 L436.0,961.6 L442.0,961.5 L448.0,961.4 L454.0,961.4 L460.0,961.3 L466.0,961.4 L472.0,961.4 L478.0,961.6 L484.0,961.7 L490.0,961.9 L496.0,962.1 L502.0,962.3 L508.0,962.6 L514.0,962.9 L520.0,963.2 L526.0,963.3 L532.0,963.4 L538.0,963.4 L544.0,963.3 L550.0,963.2 L556.0,963.1 L562.0,963.0 L568.0,962.8 L574.0,962.5 L580.0,962.1 L586.0,961.6 L592.0,961.2 L598.0,960.9 L604.0,960.8 L610.0,960.6 L616.0,960.4 L622.0,960.3 L628.0,960.2 L634.0,960.2 L640.0,960.5 L646.0,960.9 L652.0,961.5 L658.0,961.9 L664.0,962.2 L670.0,962.2 L676.0,962.1 L682.0,961.9 L688.0,961.7 L694.0,961.6 L700.0,961.5 L706.0,961.6 L712.0,961.7 L718.0,961.8 L724.0,961.9 L730.0,962.0 L736.0,962.0 L742.0,961.8 L748.0,961.4 L754.0,960.9 L760.0,960.3 L766.0,959.9 L772.0,959.6 L778.0,959.3 L784.0,958.9 L790.0,958.6 L796.0,958.2 L802.0,957.9 L808.0,957.7 L814.0,957.7 L820.0,957.8 L826.0,957.9 L832.0,958.0 L838.0,957.8 L844.0,957.6 L850.0,957.4 L856.0,957.1 L862.0,956.9 L868.0,956.6 L874.0,956.4 L880.0,956.1 L886.0,955.8 L892.0,955.5 L898.0,955.3 L904.0,955.1 L910.0,955.2 L916.0,955.6 L922.0,956.1 L928.0,956.5 L934.0,956.8 L940.0,956.7 L946.0,956.5 L952.0,956.1 L958.0,955.7 L964.0,955.3 L970.0,954.9 L976.0,954.7 L982.0,954.5 L988.0,954.3 L994.0,954.2 L1000.0,954.0 L1006.0,953.8 L1012.0,953.4 L1018.0,952.9 L1024.0,952.2 L1030.0,951.7 L1036.0,951.3 L1042.0,951.2 L1048.0,951.5 L1054.0,952.0 L1060.0,952.5 L1066.0,952.9 L1072.0,953.2 L1078.0,953.1 L1084.0,952.8 L1090.0,952.3 L1096.0,951.8 L1102.0,951.3 L1108.0,951.2 L1114.0,951.3 L1120.0,951.8 L1126.0,952.3 L1132.0,952.8 L1138.0,953.2 L1144.0,953.2 L1150.0,953.1 L1156.0,952.9 L1162.0,952.7 L1168.0,952.4 L1174.0,952.3 L1180.0,952.2 L1186.0,952.2 L1192.0,952.1 L1198.0,952.1 L1204.0,952.1 L1210.0,952.1 L1216.0,952.2 L1222.0,952.3 L1228.0,952.4 L1234.0,952.6 L1240.0,952.8 L1246.0,952.9 L1252.0,953.1 L1258.0,953.4 L1264.0,953.6 L1270.0,953.8 L1276.0,953.9 L1282.0,953.9 L1288.0,953.6 L1294.0,953.3 L1300.0,952.9 L1306.0,952.5 L1312.0,952.3 L1318.0,952.3 L1324.0,952.2 L1330.0,952.2 L1336.0,952.1 L1342.0,952.2 L1348.0,952.2 L1354.0,952.5 L1360.0,952.9 L1366.0,953.3 L1372.0,953.7 L1378.0,954.1 L1384.0,954.3 L1390.0,954.4 L1396.0,954.4 L1402.0,954.4 L1408.0,954.5 L1414.0,954.5 L1420.0,954.6 L1426.0,954.6 L1432.0,954.6 L1438.0,954.6 L1444.0,954.6 L1450.0,954.6 L1456.0,954.5 L1462.0,954.5 L1468.0,954.5 L1474.0,954.4 L1480.0,954.3 L1486.0,954.2 L1492.0,954.1 L1498.0,953.9 L1504.0,953.8 L1510.0,953.7 L1516.0,953.6 L1522.0,953.6 L1528.0,953.7 L1534.0,953.7 L1540.0,953.8"/><path d="M40.0,968.5 L46.0,968.5 L52.0,968.5 L58.0,968.5 L64.0,968.7 L70.0,969.0 L76.0,969.4 L82.0,969.8 L88.0,970.1 L94.0,970.3 L100.0,970.3 L106.0,970.3 L112.0,970.4 L118.0,970.5 L124.0,970.8 L130.0,971.2 L136.0,971.6 L142.0,971.9 L148.0,972.3 L154.0,972.5 L160.0,972.6 L166.0,972.5 L172.0,972.4 L178.0,972.3 L184.0,972.3 L190.0,972.3 L196.0,972.4 L202.0,972.6 L208.0,972.8 L214.0,973.0 L220.0,973.1 L226.0,973.2 L232.0,973.1 L238.0,973.0 L244.0,972.8 L250.0,972.6 L256.0,972.5 L262.0,972.6 L268.0,972.7 L274.0,972.9 L280.0,973.1 L286.0,973.3 L292.0,973.3 L298.0,973.3 L304.0,973.2 L310.0,973.1 L316.0,972.9 L322.0,972.8 L328.0,972.8 L334.0,973.1 L340.0,973.5 L346.0,974.0 L352.0,974.4 L358.0,974.5 L364.0,974.4 L370.0,974.2 L376.0,974.0 L382.0,973.7 L388.0,973.4 L394.0,973.1 L400.0,972.7 L406.0,972.3 L412.0,972.0 L418.0,971.6 L424.0,971.4 L430.0,971.3 L436.0,971.3 L442.0,971.4 L448.0,971.6 L454.0,971.8 L460.0,972.1 L466.0,972.4 L472.0,972.8 L478.0,973.3 L484.0,973.7 L490.0,974.1 L496.0,974.4 L502.0,974.4 L508.0,974.1 L514.0,973.7 L520.0,973.3 L526.0,973.0 L532.0,973.1 L538.0,973.3 L544.0,973.8 L550.0,974.2 L556.0,974.5 L562.0,974.6 L568.0,974.4 L574.0,974.1 L580.0,973.6 L586.0,973.1 L592.0,972.7 L598.0,972.4 L604.0,972.2 L610.0,972.0 L616.0,971.8 L622.0,971.7 L628.0,971.7 L634.0,971.6 L640.0,971.7 L646.0,972.0 L652.0,972.2 L658.0,972.4 L664.0,972.6 L670.0,972.6 L676.0,972.5 L682.0,972.2 L688.0,972.0 L694.0,971.9 L700.0,971.8 L706.0,971.9 L712.0,972.0 L718.0,972.1 L724.0,972.2 L730.0,972.3 L736.0,972.4 L742.0,972.5 L748.0,972.5 L754.0,972.4 L760.0,972.3 L766.0,972.0 L772.0,971.8 L778.0,971.5 L784.0,971.3 L790.0,971.0 L796.0,970.7 L802.0,970.3 L808.0,969.7 L814.0,969.0 L820.0,968.3 L826.0,967.6 L832.0,967.1 L838.0,967.0 L844.0,967.2 L850.0,967.5 L856.0,967.8 L862.0,968.1 L868.0,968.3 L874.0,968.3 L880.0,968.2 L886.0,968.1 L892.0,968.1 L898.0,968.0 L904.0,967.9 L910.0,967.9 L916.0,967.9 L922.0,967.8 L928.0,967.8 L934.0,967.8 L940.0,967.7 L946.0,967.6 L952.0,967.4 L958.0,967.2 L964.0,966.9 L970.0,966.6 L976.0,966.4 L982.0,966.1 L988.0,965.8 L994.0,965.6 L1000.0,965.3 L1006.0,965.0 L1012.0,964.7 L1018.0,964.3 L1024.0,964.0 L1030.0,963.6 L1036.0,963.4 L1042.0,963.3 L1048.0,963.3 L1054.0,963.3 L1060.0,963.3 L1066.0,963.3 L1072.0,963.3 L1078.0,963.2 L1084.0,963.2 L1090.0,963.1 L1096.0,963.0 L1102.0,963.0 L1108.0,962.9 L1114.0,963.1 L1120.0,963.4 L1126.0,963.8 L1132.0,964.3 L1138.0,964.6 L1144.0,964.6 L1150.0,964.5 L1156.0,964.2 L1162.0,963.9 L1168.0,963.6 L1174.0,963.4 L1180.0,963.3 L1186.0,963.3 L1192.0,963.2 L1198.0,963.2 L1204.0,963.2 L1210.0,963.1 L1216.0,963.1 L1222.0,963.0 L1228.0,963.0 L1234.0,962.9 L1240.0,962.9 L1246.0,962.9 L1252.0,963.1 L1258.0,963.5 L1264.0,963.9 L1270.0,964.2 L1276.0,964.4 L1282.0,964.3 L1288.0,964.1 L1294.0,964.0 L1300.0,963.9 L1306.0,963.7 L1312.0,963.6 L1318.0,963.5 L1324.0,963.3 L1330.0,963.1 L1336.0,963.0 L1342.0,962.8 L1348.0,962.8 L1354.0,962.8 L1360.0,962.8 L1366.0,962.9 L1372.0,963.1 L1378.0,963.4 L1384.0,963.8 L1390.0,964.2 L1396.0,964.6 L1402.0,965.1 L1408.0,965.5 L1414.0,965.9 L1420.0,966.2 L1426.0,966.5 L1432.0,966.7 L1438.0,966.8 L1444.0,966.8 L1450.0,966.7 L1456.0,966.5 L1462.0,966.3 L1468.0,966.0 L1474.0,965.7 L1480.0,965.2 L1486.0,964.7 L1492.0,964.2 L1498.0,963.6 L1504.0,963.0 L1510.0,962.6 L1516.0,962.4 L1522.0,962.3 L1528.0,962.4 L1534.0,962.5 L1540.0,962.7"/><path d="M40.0,982.4 L46.0,982.7 L52.0,982.8 L58.0,982.8 L64.0,982.8 L70.0,982.8 L76.0,982.9 L82.0,983.0 L88.0,983.2 L94.0,983.4 L100.0,983.4 L106.0,983.4 L112.0,983.5 L118.0,983.5 L124.0,983.5 L130.0,983.6 L136.0,983.6 L142.0,983.6 L148.0,983.6 L154.0,983.6 L160.0,983.7 L166.0,984.0 L172.0,984.5 L178.0,985.1 L184.0,985.5 L190.0,985.7 L196.0,985.6 L202.0,985.2 L208.0,984.8 L214.0,984.4 L220.0,984.1 L226.0,984.1 L232.0,984.1 L238.0,984.1 L244.0,984.2 L250.0,984.2 L256.0,984.2 L262.0,984.1 L268.0,984.0 L274.0,983.7 L280.0,983.4 L286.0,983.2 L292.0,983.1 L298.0,983.1 L304.0,983.3 L310.0,983.5 L316.0,983.7 L322.0,983.9 L328.0,983.9 L334.0,984.0 L340.0,984.0 L346.0,984.1 L352.0,984.2 L358.0,984.3 L364.0,984.4 L370.0,984.5 L376.0,984.6 L382.0,984.8 L388.0,984.9 L394.0,985.1 L400.0,985.2 L406.0,985.1 L412.0,985.1 L418.0,985.0 L424.0,984.9 L430.0,985.0 L436.0,985.1 L442.0,985.3 L448.0,985.5 L454.0,985.7 L460.0,985.7 L466.0,985.6 L472.0,985.4 L478.0,985.0 L484.0,984.6 L490.0,984.2 L496.0,984.0 L502.0,984.0 L508.0,984.1 L514.0,984.2 L520.0,984.3 L526.0,984.4 L532.0,984.4 L538.0,984.3 L544.0,984.2 L550.0,984.1 L556.0,984.0 L562.0,984.0 L568.0,984.0 L574.0,984.2 L580.0,984.4 L586.0,984.7 L592.0,984.9 L598.0,985.0 L604.0,984.9 L610.0,984.8 L616.0,984.6 L622.0,984.4 L628.0,984.2 L634.0,984.2 L640.0,984.2 L646.0,984.2 L652.0,984.1 L658.0,984.1 L664.0,984.1 L670.0,984.0 L676.0,984.1 L682.0,984.2 L688.0,984.3 L694.0,984.4 L700.0,984.4 L706.0,984.3 L712.0,984.1 L718.0,984.0 L724.0,983.8 L730.0,983.7 L736.0,983.6 L742.0,983.6 L748.0,983.7 L754.0,983.7 L760.0,983.7 L766.0,983.5 L772.0,983.3 L778.0,982.9 L784.0,982.6 L790.0,982.2 L796.0,981.8 L802.0,981.5 L808.0,981.2 L814.0,981.1 L820.0,981.0 L826.0,980.9 L832.0,980.8 L838.0,980.7 L844.0,980.6 L850.0,980.4 L856.0,980.3 L862.0,980.1 L868.0,980.0 L874.0,980.0 L880.0,979.9 L886.0,979.9 L892.0,979.8 L898.0,979.8 L904.0,979.8 L910.0,979.8 L916.0,979.9 L922.0,980.0 L928.0,980.0 L934.0,980.1 L940.0,980.1 L946.0,979.9 L952.0,979.6 L958.0,979.3 L964.0,979.0 L970.0,978.8 L976.0,978.8 L982.0,978.7 L988.0,978.7 L994.0,978.7 L1000.0,978.7 L1006.0,978.6 L1012.0,978.8 L1018.0,979.1 L1024.0,979.6 L1030.0,980.0 L1036.0,980.3 L1042.0,980.3 L1048.0,980.0 L1054.0,979.4 L1060.0,978.7 L1066.0,977.9 L1072.0,977.4 L1078.0,977.2 L1084.0,977.2 L1090.0,977.2 L1096.0,977.3 L1102.0,977.3 L1108.0,977.2 L1114.0,976.9 L1120.0,976.7 L1126.0,976.5 L1132.0,976.3 L1138.0,976.2 L1144.0,976.1 L1150.0,975.9 L1156.0,975.6 L1162.0,975.2 L1168.0,974.9 L1174.0,974.7 L1180.0,974.8 L1186.0,975.2 L1192.0,975.7 L1198.0,976.2 L1204.0,976.7 L1210.0,976.9 L1216.0,977.0 L1222.0,977.1 L1228.0,977.1 L1234.0,977.2 L1240.0,977.2 L1246.0,977.2 L1252.0,977.2 L1258.0,977.0 L1264.0,976.9 L1270.0,976.7 L1276.0,976.7 L1282.0,976.7 L1288.0,976.7 L1294.0,976.8 L1300.0,976.9 L1306.0,977.0 L1312.0,977.0 L1318.0,977.1 L1324.0,977.2 L1330.0,977.3 L1336.0,977.4 L1342.0,977.4 L1348.0,977.5 L1354.0,977.4 L1360.0,977.2 L1366.0,977.0 L1372.0,976.8 L1378.0,976.9 L1384.0,977.2 L1390.0,977.6 L1396.0,978.2 L1402.0,978.7 L1408.0,979.2 L1414.0,979.5 L1420.0,979.7 L1426.0,979.9 L1432.0,980.0 L1438.0,980.0 L1444.0,980.0 L1450.0,979.9 L1456.0,979.9 L1462.0,979.9 L1468.0,979.8 L1474.0,979.8 L1480.0,979.6 L1486.0,979.3 L1492.0,979.0 L1498.0,978.8 L1504.0,978.5 L1510.0,978.3 L1516.0,978.2 L1522.0,978.2 L1528.0,978.2 L1534.0,978.2 L1540.0,978.2"/><path d="M40.0,995.1 L46.0,995.2 L52.0,995.2 L58.0,995.2 L64.0,995.1 L70.0,995.0 L76.0,994.8 L82.0,994.7 L88.0,994.7 L94.0,994.7 L100.0,994.7 L106.0,994.7 L112.0,994.7 L118.0,994.7 L124.0,994.7 L130.0,994.6 L136.0,994.3 L142.0,994.0 L148.0,993.8 L154.0,993.5 L160.0,993.4 L166.0,993.3 L172.0,993.2 L178.0,993.2 L184.0,993.2 L190.0,993.2 L196.0,993.3 L202.0,993.4 L208.0,993.5 L214.0,993.6 L220.0,993.8 L226.0,993.9 L232.0,994.1 L238.0,994.3 L244.0,994.5 L250.0,994.6 L256.0,994.8 L262.0,994.8 L268.0,994.7 L274.0,994.6 L280.0,994.5 L286.0,994.4 L292.0,994.4 L298.0,994.6 L304.0,995.0 L310.0,995.6 L316.0,996.1 L322.0,996.5 L328.0,996.6 L334.0,996.6 L340.0,996.5 L346.0,996.4 L352.0,996.4 L358.0,996.4 L364.0,996.6 L370.0,996.8 L376.0,997.1 L382.0,997.3 L388.0,997.6 L394.0,997.8 L400.0,998.0 L406.0,998.2 L412.0,998.4 L418.0,998.6 L424.0,998.7 L430.0,998.8 L436.0,998.8 L442.0,998.9 L448.0,998.9 L454.0,998.9 L460.0,998.8 L466.0,998.7 L472.0,998.5 L478.0,998.3 L484.0,998.0 L490.0,997.7 L496.0,997.4 L502.0,997.1 L508.0,996.7 L514.0,996.2 L520.0,995.8 L526.0,995.6 L532.0,995.5 L538.0,995.7 L544.0,996.2 L550.0,996.7 L556.0,997.3 L562.0,997.6 L568.0,997.7 L574.0,997.8 L580.0,997.9 L586.0,998.0 L592.0,998.1 L598.0,998.1 L604.0,998.2 L610.0,998.1 L616.0,998.1 L622.0,998.0 L628.0,998.0 L634.0,998.0 L640.0,998.0 L646.0,998.0 L652.0,998.0 L658.0,998.0 L664.0,998.1 L670.0,998.1 L676.0,998.1 L682.0,998.2 L688.0,998.2 L694.0,998.3 L700.0,998.3 L706.0,998.1 L712.0,997.8 L718.0,997.3 L724.0,996.9 L730.0,996.6 L736.0,996.5 L742.0,996.7 L748.0,997.0 L754.0,997.4 L760.0,997.6 L766.0,997.7 L772.0,997.4 L778.0,997.0 L784.0,996.5 L790.0,995.9 L796.0,995.4 L802.0,994.9 L808.0,994.5 L814.0,994.2 L820.0,993.8 L826.0,993.5 L832.0,993.3 L838.0,993.1 L844.0,993.0 L850.0,993.0 L856.0,993.0 L862.0,993.0 L868.0,993.0 L874.0,993.1 L880.0,993.3 L886.0,993.5 L892.0,993.7 L898.0,993.8 L904.0,993.8 L910.0,993.6 L916.0,993.2 L922.0,992.8 L928.0,992.4 L934.0,992.0 L940.0,991.9 L946.0,991.9 L952.0,992.0 L958.0,992.1 L964.0,992.3 L970.0,992.3 L976.0,992.3 L982.0,992.2 L988.0,992.2 L994.0,992.1 L1000.0,991.9 L1006.0,991.7 L1012.0,991.5 L1018.0,991.0 L1024.0,990.6 L1030.0,990.1 L1036.0,989.7 L1042.0,989.5 L1048.0,989.4 L1054.0,989.2 L1060.0,989.1 L1066.0,989.0 L1072.0,988.9 L1078.0,988.8 L1084.0,988.8 L1090.0,988.8 L1096.0,988.8 L1102.0,988.8 L1108.0,988.8 L1114.0,988.8 L1120.0,988.8 L1126.0,988.8 L1132.0,988.9 L1138.0,988.9 L1144.0,988.8 L1150.0,988.8 L1156.0,988.7 L1162.0,988.5 L1168.0,988.4 L1174.0,988.2 L1180.0,987.9 L1186.0,987.7 L1192.0,987.4 L1198.0,987.0 L1204.0,986.8 L1210.0,986.6 L1216.0,986.4 L1222.0,986.3 L1228.0,986.2 L1234.0,986.2 L1240.0,986.2 L1246.0,986.2 L1252.0,986.0 L1258.0,985.7 L1264.0,985.4 L1270.0,985.1 L1276.0,985.0 L1282.0,985.1 L1288.0,985.2 L1294.0,985.4 L1300.0,985.6 L1306.0,985.7 L1312.0,985.9 L1318.0,986.1 L1324.0,986.3 L1330.0,986.5 L1336.0,986.6 L1342.0,986.8 L1348.0,987.1 L1354.0,987.5 L1360.0,988.0 L1366.0,988.6 L1372.0,989.1 L1378.0,989.5 L1384.0,989.8 L1390.0,989.9 L1396.0,989.8 L1402.0,989.8 L1408.0,989.8 L1414.0,989.9 L1420.0,990.2 L1426.0,990.4 L1432.0,990.7 L1438.0,990.9 L1444.0,991.0 L1450.0,990.8 L1456.0,990.3 L1462.0,989.5 L1468.0,988.5 L1474.0,987.6 L1480.0,986.8 L1486.0,986.1 L1492.0,985.5 L1498.0,984.9 L1504.0,984.5 L1510.0,984.1 L1516.0,983.9 L1522.0,983.9 L1528.0,984.0 L1534.0,984.1 L1540.0,984.2"/><path d="M40.0,1008.2 L46.0,1008.2 L52.0,1008.2 L58.0,1008.2 L64.0,1008.2 L70.0,1008.2 L76.0,1008.1 L82.0,1008.0 L88.0,1007.9 L94.0,1007.6 L100.0,1007.3 L106.0,1006.8 L112.0,1006.4 L118.0,1006.1 L124.0,1005.9 L130.0,1005.8 L136.0,1005.8 L142.0,1005.9 L148.0,1006.0 L154.0,1006.0 L160.0,1006.0 L166.0,1006.0 L172.0,1006.0 L178.0,1006.0 L184.0,1006.0 L190.0,1006.0 L196.0,1006.0 L202.0,1006.1 L208.0,1006.1 L214.0,1006.1 L220.0,1006.2 L226.0,1006.2 L232.0,1006.1 L238.0,1006.0 L244.0,1005.8 L250.0,1005.6 L256.0,1005.6 L262.0,1005.7 L268.0,1006.1 L274.0,1006.7 L280.0,1007.3 L286.0,1007.8 L292.0,1008.1 L298.0,1008.0 L304.0,1007.8 L310.0,1007.4 L316.0,1007.0 L322.0,1006.8 L328.0,1006.8 L334.0,1007.2 L340.0,1007.7 L346.0,1008.2 L352.0,1008.7 L358.0,1009.0 L364.0,1009.1 L370.0,1009.1 L376.0,1009.1 L382.0,1009.1 L388.0,1009.1 L394.0,1009.1 L400.0,1008.9 L406.0,1008.5 L412.0,1007.9 L418.0,1007.3 L424.0,1006.9 L430.0,1006.8 L436.0,1007.0 L442.0,1007.2 L448.0,1007.4 L454.0,1007.6 L460.0,1007.8 L466.0,1007.9 L472.0,1008.0 L478.0,1008.1 L484.0,1008.1 L490.0,1008.2 L496.0,1008.2 L502.0,1008.2 L508.0,1008.1 L514.0,1008.1 L520.0,1008.1 L526.0,1008.1 L532.0,1008.0 L538.0,1007.9 L544.0,1007.6 L550.0,1007.3 L556.0,1007.0 L562.0,1006.8 L568.0,1006.7 L574.0,1006.6 L580.0,1006.6 L586.0,1006.5 L592.0,1006.5 L598.0,1006.5 L604.0,1006.5 L610.0,1006.5 L616.0,1006.5 L622.0,1006.5 L628.0,1006.5 L634.0,1006.6 L640.0,1006.8 L646.0,1007.2 L652.0,1007.7 L658.0,1008.1 L664.0,1008.3 L670.0,1008.2 L676.0,1007.8 L682.0,1007.3 L688.0,1006.7 L694.0,1006.2 L700.0,1006.0 L706.0,1006.0 L712.0,1006.1 L718.0,1006.2 L724.0,1006.3 L730.0,1006.4 L736.0,1006.3 L742.0,1006.0 L748.0,1005.6 L754.0,1005.1 L760.0,1004.7 L766.0,1004.3 L772.0,1004.0 L778.0,1003.9 L784.0,1003.8 L790.0,1003.7 L796.0,1003.7 L802.0,1003.6 L808.0,1003.6 L814.0,1003.6 L820.0,1003.7 L826.0,1003.8 L832.0,1003.8 L838.0,1003.8 L844.0,1003.5 L850.0,1003.1 L856.0,1002.6 L862.0,1002.2 L868.0,1002.1 L874.0,1002.4 L880.0,1002.9 L886.0,1003.5 L892.0,1004.2 L898.0,1004.8 L904.0,1005.2 L910.0,1005.3 L916.0,1005.3 L922.0,1005.3 L928.0,1005.2 L934.0,1005.1 L940.0,1005.1 L946.0,1005.2 L952.0,1005.4 L958.0,1005.6 L964.0,1005.7 L970.0,1005.7 L976.0,1005.6 L982.0,1005.4 L988.0,1005.1 L994.0,1004.9 L1000.0,1004.5 L1006.0,1004.2 L1012.0,1003.8 L1018.0,1003.4 L1024.0,1002.9 L1030.0,1002.4 L1036.0,1002.1 L1042.0,1001.9 L1048.0,1001.9 L1054.0,1002.1 L1060.0,1002.3 L1066.0,1002.4 L1072.0,1002.4 L1078.0,1002.1 L1084.0,1001.7 L1090.0,1001.3 L1096.0,1000.8 L1102.0,1000.3 L1108.0,999.9 L1114.0,999.5 L1120.0,999.0 L1126.0,998.6 L1132.0,998.3 L1138.0,998.1 L1144.0,998.1 L1150.0,998.1 L1156.0,998.1 L1162.0,998.1 L1168.0,998.1 L1174.0,998.1 L1180.0,998.2 L1186.0,998.5 L1192.0,998.9 L1198.0,999.3 L1204.0,999.6 L1210.0,999.7 L1216.0,999.8 L1222.0,999.9 L1228.0,999.9 L1234.0,1000.0 L1240.0,1000.0 L1246.0,1000.0 L1252.0,1000.1 L1258.0,1000.1 L1264.0,1000.1 L1270.0,1000.1 L1276.0,1000.1 L1282.0,1000.1 L1288.0,1000.1 L1294.0,1000.1 L1300.0,1000.2 L1306.0,1000.2 L1312.0,1000.3 L1318.0,1000.5 L1324.0,1000.7 L1330.0,1000.9 L1336.0,1001.2 L1342.0,1001.4 L1348.0,1001.6 L1354.0,1001.7 L1360.0,1001.9 L1366.0,1002.0 L1372.0,1002.2 L1378.0,1002.4 L1384.0,1002.7 L1390.0,1003.1 L1396.0,1003.6 L1402.0,1004.2 L1408.0,1004.6 L1414.0,1004.9 L1420.0,1004.8 L1426.0,1004.5 L1432.0,1004.0 L1438.0,1003.5 L1444.0,1003.1 L1450.0,1002.8 L1456.0,1002.8 L1462.0,1002.8 L1468.0,1002.8 L1474.0,1002.7 L1480.0,1002.5 L1486.0,1002.0 L1492.0,1001.5 L1498.0,1001.1 L1504.0,1000.7 L1510.0,1000.4 L1516.0,1000.2 L1522.0,1000.1 L1528.0,999.9 L1534.0,999.5 L1540.0,999.1"/><path d="M40.0,1019.3 L46.0,1019.2 L52.0,1019.2 L58.0,1019.2 L64.0,1019.3 L70.0,1019.4 L76.0,1019.5 L82.0,1019.5 L88.0,1019.5 L94.0,1019.3 L100.0,1018.9 L106.0,1018.4 L112.0,1018.0 L118.0,1017.6 L124.0,1017.4 L130.0,1017.4 L136.0,1017.4 L142.0,1017.3 L148.0,1017.3 L154.0,1017.3 L160.0,1017.3 L166.0,1017.3 L172.0,1017.3 L178.0,1017.2 L184.0,1017.2 L190.0,1017.2 L196.0,1017.3 L202.0,1017.6 L208.0,1018.0 L214.0,1018.3 L220.0,1018.6 L226.0,1018.6 L232.0,1018.5 L238.0,1018.3 L244.0,1018.0 L250.0,1017.8 L256.0,1017.6 L262.0,1017.5 L268.0,1017.3 L274.0,1017.2 L280.0,1017.1 L286.0,1017.1 L292.0,1017.1 L298.0,1017.1 L304.0,1017.2 L310.0,1017.3 L316.0,1017.3 L322.0,1017.4 L328.0,1017.4 L334.0,1017.4 L340.0,1017.4 L346.0,1017.4 L352.0,1017.3 L358.0,1017.3 L364.0,1017.3 L370.0,1017.2 L376.0,1017.1 L382.0,1017.1 L388.0,1017.1 L394.0,1017.1 L400.0,1017.2 L406.0,1017.2 L412.0,1017.3 L418.0,1017.4 L424.0,1017.5 L430.0,1017.6 L436.0,1017.9 L442.0,1018.3 L448.0,1018.8 L454.0,1019.2 L460.0,1019.4 L466.0,1019.3 L472.0,1019.0 L478.0,1018.5 L484.0,1018.1 L490.0,1017.7 L496.0,1017.5 L502.0,1017.6 L508.0,1017.8 L514.0,1018.2 L520.0,1018.6 L526.0,1018.8 L532.0,1018.8 L538.0,1018.6 L544.0,1018.2 L550.0,1017.7 L556.0,1017.3 L562.0,1017.1 L568.0,1017.0 L574.0,1017.1 L580.0,1017.1 L586.0,1017.1 L592.0,1017.1 L598.0,1017.1 L604.0,1017.2 L610.0,1017.3 L616.0,1017.4 L622.0,1017.6 L628.0,1017.7 L634.0,1017.7 L640.0,1017.6 L646.0,1017.4 L652.0,1017.2 L658.0,1017.1 L664.0,1017.0 L670.0,1017.1 L676.0,1017.2 L682.0,1017.4 L688.0,1017.5 L694.0,1017.7 L700.0,1017.9 L706.0,1018.2 L712.0,1018.6 L718.0,1019.1 L724.0,1019.4 L730.0,1019.7 L736.0,1019.8 L742.0,1019.8 L748.0,1019.6 L754.0,1019.4 L760.0,1019.1 L766.0,1018.7 L772.0,1018.3 L778.0,1017.8 L784.0,1017.3 L790.0,1016.7 L796.0,1016.2 L802.0,1015.6 L808.0,1015.1 L814.0,1014.6 L820.0,1014.1 L826.0,1013.7 L832.0,1013.5 L838.0,1013.4 L844.0,1013.4 L850.0,1013.6 L856.0,1013.9 L862.0,1014.1 L868.0,1014.3 L874.0,1014.5 L880.0,1014.6 L886.0,1014.7 L892.0,1014.9 L898.0,1015.0 L904.0,1015.1 L910.0,1015.2 L916.0,1015.0 L922.0,1014.9 L928.0,1014.7 L934.0,1014.5 L940.0,1014.5 L946.0,1014.6 L952.0,1014.7 L958.0,1014.8 L964.0,1014.8 L970.0,1014.8 L976.0,1014.7 L982.0,1014.4 L988.0,1013.9 L994.0,1013.4 L1000.0,1013.0 L1006.0,1012.7 L1012.0,1012.8 L1018.0,1013.1 L1024.0,1013.5 L1030.0,1013.9 L1036.0,1014.1 L1042.0,1014.1 L1048.0,1013.9 L1054.0,1013.6 L1060.0,1013.3 L1066.0,1013.0 L1072.0,1012.8 L1078.0,1012.7 L1084.0,1012.7 L1090.0,1012.7 L1096.0,1012.8 L1102.0,1012.8 L1108.0,1012.8 L1114.0,1012.7 L1120.0,1012.6 L1126.0,1012.4 L1132.0,1012.3 L1138.0,1012.2 L1144.0,1012.1 L1150.0,1012.0 L1156.0,1011.8 L1162.0,1011.7 L1168.0,1011.5 L1174.0,1011.3 L1180.0,1011.2 L1186.0,1011.0 L1192.0,1010.9 L1198.0,1010.7 L1204.0,1010.7 L1210.0,1010.6 L1216.0,1010.8 L1222.0,1011.3 L1228.0,1011.9 L1234.0,1012.4 L1240.0,1012.8 L1246.0,1012.9 L1252.0,1012.8 L1258.0,1012.6 L1264.0,1012.3 L1270.0,1012.2 L1276.0,1012.3 L1282.0,1012.8 L1288.0,1013.4 L1294.0,1014.1 L1300.0,1014.7 L1306.0,1015.4 L1312.0,1015.8 L1318.0,1016.1 L1324.0,1016.4 L1330.0,1016.5 L1336.0,1016.6 L1342.0,1016.5 L1348.0,1016.5 L1354.0,1016.4 L1360.0,1016.3 L1366.0,1016.2 L1372.0,1016.1 L1378.0,1016.1 L1384.0,1016.0 L1390.0,1016.0 L1396.0,1016.1 L1402.0,1016.3 L1408.0,1016.4 L1414.0,1016.5 L1420.0,1016.5 L1426.0,1016.5 L1432.0,1016.4 L1438.0,1016.4 L1444.0,1016.3 L1450.0,1016.1 L1456.0,1015.6 L1462.0,1014.8 L1468.0,1014.0 L1474.0,1013.3 L1480.0,1012.7 L1486.0,1012.4 L1492.0,1012.2 L1498.0,1012.2 L1504.0,1012.2 L1510.0,1012.3 L1516.0,1012.2 L1522.0,1012.2 L1528.0,1012.1 L1534.0,1012.0 L1540.0,1011.8"/><path d="M40.0,1031.0 L46.0,1030.9 L52.0,1030.9 L58.0,1030.8 L64.0,1030.6 L70.0,1030.5 L76.0,1030.3 L82.0,1030.1 L88.0,1030.0 L94.0,1029.8 L100.0,1029.7 L106.0,1029.5 L112.0,1029.3 L118.0,1029.2 L124.0,1029.0 L130.0,1028.9 L136.0,1028.8 L142.0,1028.7 L148.0,1028.7 L154.0,1028.7 L160.0,1028.9 L166.0,1029.3 L172.0,1029.9 L178.0,1030.6 L184.0,1031.2 L190.0,1031.6 L196.0,1031.7 L202.0,1031.8 L208.0,1031.8 L214.0,1031.8 L220.0,1031.8 L226.0,1031.7 L232.0,1031.7 L238.0,1031.6 L244.0,1031.5 L250.0,1031.3 L256.0,1031.2 L262.0,1031.3 L268.0,1031.5 L274.0,1031.9 L280.0,1032.3 L286.0,1032.6 L292.0,1032.7 L298.0,1032.7 L304.0,1032.7 L310.0,1032.7 L316.0,1032.6 L322.0,1032.6 L328.0,1032.5 L334.0,1032.3 L340.0,1032.0 L346.0,1031.6 L352.0,1031.2 L358.0,1030.9 L364.0,1030.6 L370.0,1030.4 L376.0,1030.1 L382.0,1029.9 L388.0,1029.7 L394.0,1029.6 L400.0,1029.6 L406.0,1029.6 L412.0,1029.5 L418.0,1029.5 L424.0,1029.5 L430.0,1029.5 L436.0,1029.5 L442.0,1029.4 L448.0,1029.3 L454.0,1029.3 L460.0,1029.2 L466.0,1029.3 L472.0,1029.4 L478.0,1029.5 L484.0,1029.7 L490.0,1029.8 L496.0,1029.9 L502.0,1029.8 L508.0,1029.7 L514.0,1029.5 L520.0,1029.4 L526.0,1029.3 L532.0,1029.2 L538.0,1029.3 L544.0,1029.4 L550.0,1029.5 L556.0,1029.6 L562.0,1029.6 L568.0,1029.7 L574.0,1029.7 L580.0,1029.7 L586.0,1029.8 L592.0,1029.8 L598.0,1029.9 L604.0,1030.0 L610.0,1030.1 L616.0,1030.3 L622.0,1030.5 L628.0,1030.7 L634.0,1030.9 L640.0,1031.1 L646.0,1031.3 L652.0,1031.5 L658.0,1031.7 L664.0,1031.8 L670.0,1031.8 L676.0,1031.8 L682.0,1031.8 L688.0,1031.8 L694.0,1031.7 L700.0,1031.6 L706.0,1031.5 L712.0,1031.4 L718.0,1031.2 L724.0,1031.0 L730.0,1030.9 L736.0,1030.9 L742.0,1030.9 L748.0,1030.8 L754.0,1030.7 L760.0,1030.6 L766.0,1030.4 L772.0,1030.2 L778.0,1030.0 L784.0,1029.8 L790.0,1029.6 L796.0,1029.4 L802.0,1029.1 L808.0,1028.8 L814.0,1028.5 L820.0,1028.2 L826.0,1027.9 L832.0,1027.7 L838.0,1027.5 L844.0,1027.4 L850.0,1027.3 L856.0,1027.2 L862.0,1027.2 L868.0,1027.1 L874.0,1027.0 L880.0,1026.8 L886.0,1026.6 L892.0,1026.4 L898.0,1026.2 L904.0,1026.1 L910.0,1026.1 L916.0,1026.1 L922.0,1026.1 L928.0,1026.2 L934.0,1026.3 L940.0,1026.4 L946.0,1026.6 L952.0,1027.0 L958.0,1027.3 L964.0,1027.6 L970.0,1027.7 L976.0,1027.5 L982.0,1027.1 L988.0,1026.4 L994.0,1025.8 L1000.0,1025.2 L1006.0,1024.9 L1012.0,1024.9 L1018.0,1024.9 L1024.0,1025.1 L1030.0,1025.2 L1036.0,1025.3 L1042.0,1025.3 L1048.0,1025.3 L1054.0,1025.2 L1060.0,1025.2 L1066.0,1025.1 L1072.0,1025.0 L1078.0,1025.0 L1084.0,1025.0 L1090.0,1025.1 L1096.0,1025.1 L1102.0,1025.1 L1108.0,1025.0 L1114.0,1024.8 L1120.0,1024.3 L1126.0,1023.8 L1132.0,1023.3 L1138.0,1023.0 L1144.0,1022.8 L1150.0,1022.8 L1156.0,1022.7 L1162.0,1022.7 L1168.0,1022.6 L1174.0,1022.6 L1180.0,1022.5 L1186.0,1022.4 L1192.0,1022.4 L1198.0,1022.3 L1204.0,1022.2 L1210.0,1022.2 L1216.0,1022.2 L1222.0,1022.2 L1228.0,1022.3 L1234.0,1022.3 L1240.0,1022.4 L1246.0,1022.5 L1252.0,1022.7 L1258.0,1023.0 L1264.0,1023.3 L1270.0,1023.8 L1276.0,1024.3 L1282.0,1024.9 L1288.0,1025.6 L1294.0,1026.5 L1300.0,1027.3 L1306.0,1028.1 L1312.0,1028.6 L1318.0,1029.0 L1324.0,1029.3 L1330.0,1029.4 L1336.0,1029.5 L1342.0,1029.5 L1348.0,1029.5 L1354.0,1029.5 L1360.0,1029.4 L1366.0,1029.4 L1372.0,1029.3 L1378.0,1029.2 L1384.0,1029.0 L1390.0,1028.5 L1396.0,1027.8 L1402.0,1027.1 L1408.0,1026.5 L1414.0,1026.2 L1420.0,1026.1 L1426.0,1026.0 L1432.0,1025.9 L1438.0,1025.8 L1444.0,1025.7 L1450.0,1025.7 L1456.0,1025.8 L1462.0,1026.1 L1468.0,1026.4 L1474.0,1026.7 L1480.0,1026.9 L1486.0,1027.0 L1492.0,1027.0 L1498.0,1027.1 L1504.0,1027.1 L1510.0,1027.1 L1516.0,1027.1 L1522.0,1027.1 L1528.0,1027.0 L1534.0,1026.8 L1540.0,1026.5"/><path d="M40.0,1043.6 L46.0,1043.4 L52.0,1043.3 L58.0,1043.3 L64.0,1043.4 L70.0,1043.6 L76.0,1043.7 L82.0,1043.8 L88.0,1043.8 L94.0,1043.7 L100.0,1043.7 L106.0,1043.7 L112.0,1043.6 L118.0,1043.4 L124.0,1043.1 L130.0,1042.8 L136.0,1042.5 L142.0,1042.2 L148.0,1042.1 L154.0,1042.1 L160.0,1042.1 L166.0,1042.3 L172.0,1042.5 L178.0,1042.7 L184.0,1043.0 L190.0,1043.3 L196.0,1043.7 L202.0,1044.0 L208.0,1044.4 L214.0,1044.7 L220.0,1045.0 L226.0,1045.2 L232.0,1045.1 L238.0,1044.8 L244.0,1044.3 L250.0,1043.9 L256.0,1043.5 L262.0,1043.4 L268.0,1043.2 L274.0,1043.0 L280.0,1042.9 L286.0,1042.7 L292.0,1042.6 L298.0,1042.5 L304.0,1042.4 L310.0,1042.3 L316.0,1042.2 L322.0,1042.2 L328.0,1042.1 L334.0,1042.2 L340.0,1042.3 L346.0,1042.5 L352.0,1042.7 L358.0,1042.8 L364.0,1042.9 L370.0,1043.0 L376.0,1043.0 L382.0,1043.0 L388.0,1043.1 L394.0,1043.1 L400.0,1043.2 L406.0,1043.4 L412.0,1043.5 L418.0,1043.6 L424.0,1043.7 L430.0,1043.7 L436.0,1043.6 L442.0,1043.5 L448.0,1043.3 L454.0,1043.1 L460.0,1043.0 L466.0,1042.9 L472.0,1042.8 L478.0,1042.7 L484.0,1042.7 L490.0,1042.6 L496.0,1042.5 L502.0,1042.5 L508.0,1042.6 L514.0,1042.6 L520.0,1042.7 L526.0,1042.7 L532.0,1042.7 L538.0,1042.6 L544.0,1042.4 L550.0,1042.2 L556.0,1042.0 L562.0,1041.9 L568.0,1041.9 L574.0,1041.9 L580.0,1042.0 L586.0,1042.1 L592.0,1042.1 L598.0,1042.1 L604.0,1042.0 L610.0,1041.8 L616.0,1041.4 L622.0,1041.1 L628.0,1040.9 L634.0,1040.8 L640.0,1041.1 L646.0,1041.5 L652.0,1042.0 L658.0,1042.5 L664.0,1042.7 L670.0,1042.7 L676.0,1042.4 L682.0,1042.1 L688.0,1041.7 L694.0,1041.4 L700.0,1041.3 L706.0,1041.5 L712.0,1041.8 L718.0,1042.3 L724.0,1042.7 L730.0,1043.0 L736.0,1043.1 L742.0,1043.0 L748.0,1042.9 L754.0,1042.7 L760.0,1042.5 L766.0,1042.4 L772.0,1042.2 L778.0,1042.0 L784.0,1041.7 L790.0,1041.5 L796.0,1041.3 L802.0,1041.1 L808.0,1041.0 L814.0,1040.8 L820.0,1040.6 L826.0,1040.5 L832.0,1040.3 L838.0,1040.3 L844.0,1040.2 L850.0,1040.1 L856.0,1040.1 L862.0,1040.0 L868.0,1040.0 L874.0,1039.9 L880.0,1039.9 L886.0,1040.0 L892.0,1040.0 L898.0,1040.0 L904.0,1039.9 L910.0,1039.8 L916.0,1039.7 L922.0,1039.6 L928.0,1039.4 L934.0,1039.3 L940.0,1039.2 L946.0,1038.9 L952.0,1038.5 L958.0,1038.0 L964.0,1037.6 L970.0,1037.3 L976.0,1037.2 L982.0,1037.1 L988.0,1037.0 L994.0,1037.0 L1000.0,1036.9 L1006.0,1036.8 L1012.0,1036.9 L1018.0,1037.0 L1024.0,1037.2 L1030.0,1037.4 L1036.0,1037.6 L1042.0,1037.5 L1048.0,1037.5 L1054.0,1037.3 L1060.0,1037.2 L1066.0,1037.0 L1072.0,1036.7 L1078.0,1036.5 L1084.0,1036.2 L1090.0,1035.8 L1096.0,1035.5 L1102.0,1035.1 L1108.0,1034.8 L1114.0,1034.5 L1120.0,1034.3 L1126.0,1034.1 L1132.0,1033.9 L1138.0,1033.8 L1144.0,1033.8 L1150.0,1033.9 L1156.0,1034.2 L1162.0,1034.5 L1168.0,1034.7 L1174.0,1034.9 L1180.0,1034.9 L1186.0,1034.7 L1192.0,1034.4 L1198.0,1034.1 L1204.0,1033.9 L1210.0,1033.9 L1216.0,1034.0 L1222.0,1034.3 L1228.0,1034.5 L1234.0,1034.8 L1240.0,1035.1 L1246.0,1035.4 L1252.0,1035.7 L1258.0,1036.1 L1264.0,1036.5 L1270.0,1036.9 L1276.0,1037.5 L1282.0,1038.1 L1288.0,1038.8 L1294.0,1039.5 L1300.0,1040.3 L1306.0,1040.9 L1312.0,1041.4 L1318.0,1041.7 L1324.0,1041.8 L1330.0,1041.8 L1336.0,1041.7 L1342.0,1041.6 L1348.0,1041.6 L1354.0,1041.6 L1360.0,1041.6 L1366.0,1041.6 L1372.0,1041.6 L1378.0,1041.5 L1384.0,1041.3 L1390.0,1041.0 L1396.0,1040.5 L1402.0,1040.1 L1408.0,1039.6 L1414.0,1039.3 L1420.0,1038.9 L1426.0,1038.6 L1432.0,1038.3 L1438.0,1038.1 L1444.0,1038.0 L1450.0,1037.9 L1456.0,1037.8 L1462.0,1037.7 L1468.0,1037.6 L1474.0,1037.6 L1480.0,1037.5 L1486.0,1037.5 L1492.0,1037.8 L1498.0,1038.2 L1504.0,1038.6 L1510.0,1039.0 L1516.0,1039.1 L1522.0,1039.1 L1528.0,1039.1 L1534.0,1039.0 L1540.0,1038.9"/><path d="M40.0,1053.5 L46.0,1053.4 L52.0,1053.4 L58.0,1053.4 L64.0,1053.6 L70.0,1053.8 L76.0,1054.1 L82.0,1054.3 L88.0,1054.3 L94.0,1054.3 L100.0,1054.3 L106.0,1054.2 L112.0,1054.1 L118.0,1054.0 L124.0,1053.8 L130.0,1053.6 L136.0,1053.4 L142.0,1053.2 L148.0,1053.0 L154.0,1052.8 L160.0,1052.8 L166.0,1052.7 L172.0,1052.7 L178.0,1052.7 L184.0,1052.7 L190.0,1052.8 L196.0,1053.0 L202.0,1053.3 L208.0,1053.7 L214.0,1054.0 L220.0,1054.4 L226.0,1054.6 L232.0,1054.9 L238.0,1055.1 L244.0,1055.3 L250.0,1055.4 L256.0,1055.5 L262.0,1055.4 L268.0,1055.2 L274.0,1054.8 L280.0,1054.4 L286.0,1054.0 L292.0,1053.8 L298.0,1053.7 L304.0,1053.6 L310.0,1053.5 L316.0,1053.4 L322.0,1053.4 L328.0,1053.4 L334.0,1053.5 L340.0,1053.6 L346.0,1053.8 L352.0,1054.0 L358.0,1054.0 L364.0,1054.0 L370.0,1053.9 L376.0,1053.8 L382.0,1053.7 L388.0,1053.6 L394.0,1053.5 L400.0,1053.5 L406.0,1053.5 L412.0,1053.5 L418.0,1053.6 L424.0,1053.6 L430.0,1053.5 L436.0,1053.3 L442.0,1053.0 L448.0,1052.7 L454.0,1052.4 L460.0,1052.3 L466.0,1052.4 L472.0,1052.7 L478.0,1053.1 L484.0,1053.6 L490.0,1053.9 L496.0,1054.1 L502.0,1054.2 L508.0,1054.2 L514.0,1054.3 L520.0,1054.3 L526.0,1054.3 L532.0,1054.3 L538.0,1054.3 L544.0,1054.3 L550.0,1054.2 L556.0,1054.1 L562.0,1054.1 L568.0,1054.0 L574.0,1053.9 L580.0,1053.8 L586.0,1053.7 L592.0,1053.6 L598.0,1053.6 L604.0,1053.8 L610.0,1054.3 L616.0,1054.8 L622.0,1055.4 L628.0,1055.7 L634.0,1055.8 L640.0,1055.6 L646.0,1055.2 L652.0,1054.7 L658.0,1054.4 L664.0,1054.1 L670.0,1054.2 L676.0,1054.4 L682.0,1054.7 L688.0,1055.1 L694.0,1055.3 L700.0,1055.4 L706.0,1055.3 L712.0,1055.0 L718.0,1054.6 L724.0,1054.2 L730.0,1054.0 L736.0,1053.9 L742.0,1053.9 L748.0,1053.9 L754.0,1053.8 L760.0,1053.7 L766.0,1053.5 L772.0,1053.4 L778.0,1053.5 L784.0,1053.6 L790.0,1053.8 L796.0,1053.9 L802.0,1053.8 L808.0,1053.5 L814.0,1053.0 L820.0,1052.5 L826.0,1052.1 L832.0,1051.7 L838.0,1051.6 L844.0,1051.8 L850.0,1052.1 L856.0,1052.5 L862.0,1052.8 L868.0,1052.9 L874.0,1052.8 L880.0,1052.6 L886.0,1052.3 L892.0,1052.0 L898.0,1051.7 L904.0,1051.4 L910.0,1051.2 L916.0,1051.0 L922.0,1050.8 L928.0,1050.6 L934.0,1050.5 L940.0,1050.5 L946.0,1050.5 L952.0,1050.5 L958.0,1050.6 L964.0,1050.6 L970.0,1050.7 L976.0,1050.8 L982.0,1050.9 L988.0,1051.1 L994.0,1051.3 L1000.0,1051.4 L1006.0,1051.6 L1012.0,1051.8 L1018.0,1051.9 L1024.0,1052.1 L1030.0,1052.2 L1036.0,1052.3 L1042.0,1052.5 L1048.0,1052.6 L1054.0,1052.7 L1060.0,1052.7 L1066.0,1052.7 L1072.0,1052.6 L1078.0,1052.3 L1084.0,1051.8 L1090.0,1051.0 L1096.0,1050.3 L1102.0,1049.6 L1108.0,1049.3 L1114.0,1049.2 L1120.0,1049.1 L1126.0,1049.2 L1132.0,1049.2 L1138.0,1049.3 L1144.0,1049.3 L1150.0,1049.3 L1156.0,1049.2 L1162.0,1049.1 L1168.0,1049.1 L1174.0,1049.1 L1180.0,1049.3 L1186.0,1049.8 L1192.0,1050.4 L1198.0,1051.0 L1204.0,1051.5 L1210.0,1051.8 L1216.0,1051.8 L1222.0,1051.5 L1228.0,1051.1 L1234.0,1050.7 L1240.0,1050.5 L1246.0,1050.5 L1252.0,1050.6 L1258.0,1050.8 L1264.0,1051.0 L1270.0,1051.2 L1276.0,1051.4 L1282.0,1051.7 L1288.0,1052.0 L1294.0,1052.2 L1300.0,1052.5 L1306.0,1052.7 L1312.0,1052.9 L1318.0,1053.2 L1324.0,1053.4 L1330.0,1053.7 L1336.0,1054.0 L1342.0,1054.2 L1348.0,1054.4 L1354.0,1054.6 L1360.0,1054.8 L1366.0,1055.1 L1372.0,1055.2 L1378.0,1055.2 L1384.0,1055.1 L1390.0,1055.0 L1396.0,1054.9 L1402.0,1054.7 L1408.0,1054.6 L1414.0,1054.5 L1420.0,1054.3 L1426.0,1054.1 L1432.0,1053.9 L1438.0,1053.7 L1444.0,1053.6 L1450.0,1053.5 L1456.0,1053.5 L1462.0,1053.5 L1468.0,1053.6 L1474.0,1053.7 L1480.0,1053.7 L1486.0,1053.6 L1492.0,1053.6 L1498.0,1053.5 L1504.0,1053.4 L1510.0,1053.3 L1516.0,1053.2 L1522.0,1053.1 L1528.0,1052.9 L1534.0,1052.6 L1540.0,1052.3"/></g>
<path d="M51.5,866.6 L1519,866.6" stroke="#000" stroke-width="3.6" fill="none"/>
<path d="M61,1067 L1528,1065.5" stroke="#000" stroke-width="6" fill="none"/>
<path d="M1518,866 C1524,880 1530,898 1531.5,915 C1533,950 1532,1000 1530,1030 C1529,1045 1529.5,1055 1529.5,1066" stroke="#000" stroke-width="5.5" fill="none"/>
<path d="M61,1067.5 C58,1000 54,930 51.5,866" stroke="#000" stroke-width="5" fill="none"/>
<path d="M1112.2,592.2 L1197.2,507.2 L1207.7,517.6 L1120.2,605.1 Z" fill="#fff"/>
<path d="M1112.2,592.2 L1197.2,507.2" stroke="#000" stroke-width="2.6"/>
<path d="M1120.2,605.1 L1207.7,517.6" stroke="#000" stroke-width="4.6"/>
<ellipse cx="541.1" cy="681.5" rx="76.6" ry="133.3" fill="#000"/><ellipse cx="540.75" cy="681.8" rx="69.95" ry="128.2" fill="#fff"/>
<ellipse cx="541.2" cy="680.2" rx="40.9" ry="93.0" fill="#000"/><ellipse cx="541.7" cy="680.3" rx="34.6" ry="88.6" fill="#fff"/>
<path d="M1068.50,549.30 C1074.00,549.22 1081.08,549.97 1086.00,551.50 C1090.92,553.03 1094.33,555.67 1098.00,558.50 C1101.67,561.33 1104.67,564.83 1108.00,568.50 C1111.33,572.17 1114.73,576.38 1118.00,580.50 C1121.27,584.62 1125.07,587.38 1127.60,593.20 C1130.13,599.02 1131.53,608.02 1133.20,615.40 C1134.87,622.78 1136.60,630.12 1137.60,637.50 C1138.60,644.88 1138.83,652.32 1139.20,659.70 C1139.57,667.08 1139.90,674.25 1139.80,681.80 C1139.70,689.35 1139.65,697.47 1138.60,705.00 C1137.55,712.53 1135.68,719.17 1133.50,727.00 C1131.32,734.83 1128.75,743.83 1125.50,752.00 C1122.25,760.17 1118.08,769.33 1114.00,776.00 C1109.92,782.67 1104.67,787.00 1101.00,792.00 C1097.33,797.00 1095.50,802.17 1092.00,806.00 C1088.50,809.83 1084.33,813.17 1080.00,815.00 C1075.67,816.83 1071.33,817.50 1066.00,817.00 C1060.67,816.50 1053.00,815.33 1048.00,812.00 C1043.00,808.67 1039.83,802.00 1036.00,797.00 C1032.17,792.00 1028.50,788.33 1025.00,782.00 C1021.50,775.67 1017.83,766.83 1015.00,759.00 C1012.17,751.17 1010.02,743.03 1008.00,735.00 C1005.98,726.97 1004.18,719.47 1002.90,710.80 C1001.62,702.13 1000.68,691.47 1000.30,683.00 C999.92,674.53 999.98,667.80 1000.60,660.00 C1001.22,652.20 1002.43,644.03 1004.00,636.20 C1005.57,628.37 1007.83,620.20 1010.00,613.00 C1012.17,605.80 1014.17,599.50 1017.00,593.00 C1019.83,586.50 1023.17,579.50 1027.00,574.00 C1030.83,568.50 1035.67,563.67 1040.00,560.00 C1044.33,556.33 1048.25,553.78 1053.00,552.00 C1057.75,550.22 1063.00,549.38 1068.50,549.30 Z" fill="#000"/><path d="M1068.50,555.20 C1073.50,555.37 1079.75,556.03 1084.00,557.50 C1088.25,558.97 1090.83,561.42 1094.00,564.00 C1097.17,566.58 1100.00,569.67 1103.00,573.00 C1106.00,576.33 1109.08,580.50 1112.00,584.00 C1114.92,587.50 1118.27,588.77 1120.50,594.00 C1122.73,599.23 1123.85,608.15 1125.40,615.40 C1126.95,622.65 1128.70,630.12 1129.80,637.50 C1130.90,644.88 1131.53,652.32 1132.00,659.70 C1132.47,667.08 1132.68,674.25 1132.60,681.80 C1132.52,689.35 1132.52,697.47 1131.50,705.00 C1130.48,712.53 1128.67,719.17 1126.50,727.00 C1124.33,734.83 1121.75,744.17 1118.50,752.00 C1115.25,759.83 1111.08,767.67 1107.00,774.00 C1102.92,780.33 1097.67,785.00 1094.00,790.00 C1090.33,795.00 1088.33,800.33 1085.00,804.00 C1081.67,807.67 1077.17,810.50 1074.00,812.00 C1070.83,813.50 1069.83,813.50 1066.00,813.00 C1062.17,812.50 1055.33,811.83 1051.00,809.00 C1046.67,806.17 1043.67,800.67 1040.00,796.00 C1036.33,791.33 1032.50,787.25 1029.00,781.00 C1025.50,774.75 1021.83,766.17 1019.00,758.50 C1016.17,750.83 1014.17,742.95 1012.00,735.00 C1009.83,727.05 1007.48,719.47 1006.00,710.80 C1004.52,702.13 1003.53,691.47 1003.10,683.00 C1002.67,674.53 1002.78,667.75 1003.40,660.00 C1004.02,652.25 1005.23,644.25 1006.80,636.50 C1008.37,628.75 1010.67,620.58 1012.80,613.50 C1014.93,606.42 1016.82,600.25 1019.60,594.00 C1022.38,587.75 1025.85,581.17 1029.50,576.00 C1033.15,570.83 1037.42,566.25 1041.50,563.00 C1045.58,559.75 1049.50,557.80 1054.00,556.50 C1058.50,555.20 1063.50,555.03 1068.50,555.20 Z" fill="#fff"/>
<path d="M1066.00,594.00 C1070.00,594.42 1076.83,596.33 1081.00,599.00 C1085.17,601.67 1088.40,605.43 1091.00,610.00 C1093.60,614.57 1095.02,619.97 1096.60,626.40 C1098.18,632.83 1099.67,641.22 1100.50,648.60 C1101.33,655.98 1101.42,664.63 1101.60,670.70 C1101.78,676.77 1101.78,680.62 1101.60,685.00 C1101.42,689.38 1101.02,692.70 1100.50,697.00 C1099.98,701.30 1099.50,705.80 1098.50,710.80 C1097.50,715.80 1096.05,721.85 1094.50,727.00 C1092.95,732.15 1091.37,737.53 1089.20,741.70 C1087.03,745.87 1084.37,749.03 1081.50,752.00 C1078.63,754.97 1074.92,757.88 1072.00,759.50 C1069.08,761.12 1066.83,761.78 1064.00,761.70 C1061.17,761.62 1058.42,762.33 1055.00,759.00 C1051.58,755.67 1046.33,747.03 1043.50,741.70 C1040.67,736.37 1039.55,732.15 1038.00,727.00 C1036.45,721.85 1035.32,716.97 1034.20,710.80 C1033.08,704.63 1031.82,696.47 1031.30,690.00 C1030.78,683.53 1030.90,678.33 1031.10,672.00 C1031.30,665.67 1031.68,658.67 1032.50,652.00 C1033.32,645.33 1034.50,638.17 1036.00,632.00 C1037.50,625.83 1039.33,619.83 1041.50,615.00 C1043.67,610.17 1046.42,606.08 1049.00,603.00 C1051.58,599.92 1054.17,598.00 1057.00,596.50 C1059.83,595.00 1062.00,593.58 1066.00,594.00 Z" fill="#000"/><path d="M1066.00,599.50 C1069.08,599.83 1074.50,601.25 1078.00,603.50 C1081.50,605.75 1084.63,609.18 1087.00,613.00 C1089.37,616.82 1090.60,620.47 1092.20,626.40 C1093.80,632.33 1095.68,641.22 1096.60,648.60 C1097.52,655.98 1097.58,664.63 1097.70,670.70 C1097.82,676.77 1097.53,680.62 1097.30,685.00 C1097.07,689.38 1096.87,692.70 1096.30,697.00 C1095.73,701.30 1094.95,705.80 1093.90,710.80 C1092.85,715.80 1091.55,721.85 1090.00,727.00 C1088.45,732.15 1086.70,737.70 1084.60,741.70 C1082.50,745.70 1079.83,748.53 1077.40,751.00 C1074.97,753.47 1072.23,755.32 1070.00,756.50 C1067.77,757.68 1066.08,758.27 1064.00,758.10 C1061.92,757.93 1059.90,758.23 1057.50,755.50 C1055.10,752.77 1051.85,746.45 1049.60,741.70 C1047.35,736.95 1045.53,732.15 1044.00,727.00 C1042.47,721.85 1041.42,716.97 1040.40,710.80 C1039.38,704.63 1038.33,696.47 1037.90,690.00 C1037.47,683.53 1037.62,678.33 1037.80,672.00 C1037.98,665.67 1038.30,658.50 1039.00,652.00 C1039.70,645.50 1040.67,638.67 1042.00,633.00 C1043.33,627.33 1045.08,622.33 1047.00,618.00 C1048.92,613.67 1051.42,609.75 1053.50,607.00 C1055.58,604.25 1057.42,602.75 1059.50,601.50 C1061.58,600.25 1062.92,599.17 1066.00,599.50 Z" fill="#fff"/>
<path d="M368,866 L368,838 C368,822 378,812 390,807.5 C396,805 404,803.6 415,803.6 L609,803.6 C624,801 634,796 640,789 C643,785 643,780 643,776 L643,534.5 L980,534.5 L980,770 C980,792 995,803.6 1017,803.6 L1215,803.8 C1220,804 1226,806.5 1230,810 L1238,817.5 C1242,822 1244.7,826 1244.7,832 L1244.7,866" fill="#fff" stroke="#000" stroke-width="5.5" stroke-linejoin="round"/>
<path d="M51.5,866.6 L1519,866.6" stroke="#000" stroke-width="3.6" fill="none"/>
<path d="M680,534 L680,251 680,251 L683,247.5 L690,246.5 L704,246 L747.3,246 L760,241 L770,236.5 L789,237.5 L800,234.5 L821.5,226.4 L840.5,227.3 L860.8,229.5 L878.5,227 L907.6,221.3 L921.5,216.2 L926.6,212.6 L938,208.8 L943.7,210.3 L941,534 Z" fill="#fff" stroke="none"/>
<path d="M680,251 L683,247.5 L690,246.5 L704,246 L747.3,246 L760,241 L770,236.5 L789,237.5 L800,234.5 L821.5,226.4 L840.5,227.3 L860.8,229.5 L878.5,227 L907.6,221.3 L921.5,216.2 L926.6,212.6 L938,208.8 L943.7,210.3" fill="none" stroke="#000" stroke-width="3.6" stroke-linejoin="round" stroke-linecap="round"/>
<g stroke="#000" fill="none" stroke-linecap="round"><path d="M686.5,248.0 L687.1,534" stroke-width="2.8"/><path d="M693.5,247.375 L694.1,534" stroke-width="3"/><path d="M702,247.07142857142858 L702.6,534" stroke-width="3"/><path d="M714,247.0 L714.6,534" stroke-width="3"/><path d="M726,247.0 L726.6,534" stroke-width="3"/><path d="M740,247.0 L740.6,534" stroke-width="3.2"/><path d="M754.5,261 L754.8,486.5" stroke-width="3.2"/><path d="M773.4,292 L773.6999999999999,438.5" stroke-width="3.2"/><path d="M791.5,309 L791.8,422" stroke-width="3.2"/><path d="M832.9,303 L833.1999999999999,467" stroke-width="3.2"/><path d="M848.8,270 L849.0999999999999,485" stroke-width="3.2"/><path d="M863.3,230.14689265536722 L864.9,534" stroke-width="3.2"/><path d="M879.1,227.8824742268041 L880.6,534" stroke-width="3"/><path d="M893,225.159793814433 L894.8,534" stroke-width="3"/><path d="M903.8,223.04432989690724 L905.3,534" stroke-width="3"/><path d="M913.9,219.9884892086331 L916.2,534" stroke-width="3.8"/><path d="M924.7,214.9411764705882 L926.5,534" stroke-width="4.6"/><path d="M932.9,211.50000000000003 L936.3,534" stroke-width="4.2"/></g>
<path d="M640,534.5 L983,534.5" stroke="#000" stroke-width="5"/>
<path d="M680,249 L680,536" stroke="#000" stroke-width="4.6"/>
<path d="M941,208 L942.3,536" stroke="#000" stroke-width="6"/>
<path d="M1631.5,34.5 L1073.0,593.0 C1066.8,598.8 1065.5,610.5 1081.2,610.2 L1647.8,43.8 Z" fill="#fff" stroke="none"/>
<path d="M1631.5,34.5 L1267.0,399.0 M1170.0,496.0 L1073.0,593.0 C1066.8,598.8 1065.5,610.5 1081.2,610.2" fill="none" stroke="#000" stroke-width="3.4" stroke-linecap="round"/>
<path d="M1081.2,610.2 L1183.8,507.8 M1278.2,413.2 L1647.8,43.8" fill="none" stroke="#000" stroke-width="5" stroke-linecap="round"/>
<path d="M1642.2,46.2 L1647.0,41.0 L1650.5,44.5 L1642.5,52.5 Z" fill="#000"/>
<path d="M1289,424 C1296,418 1305,416.5 1312,418 C1320,420 1323,428 1322,440 C1320.5,455 1313,478 1308,493" fill="none" stroke="#000" stroke-width="22" stroke-linecap="round"/>
<path d="M1289,424 C1296,418 1305,416.5 1312,418 C1320,420 1323,428 1322,440 C1320.5,455 1313,478 1308,493" fill="none" stroke="#fff" stroke-width="12.5" stroke-linecap="round" transform="translate(-1,0)"/>
<path d="M1159.4,478.5 L1251.2,386.7 L1301.6,437.0 L1209.8,528.8 Z" fill="#000"/>
<path d="M1163.6,478.5 L1249.8,392.3 L1294.4,437.0 L1208.2,523.2 Z" fill="#fff"/>
<path d="M1155.8,408.6 L1205.5,429.5 M1193.3,417.8 L1204.5,429 L1189.8,432.6" fill="none" stroke="#000" stroke-width="2.4"/>
<path d="M440,1066 L440,1078 C440,1083 443,1084 448,1084 L700,1083 C708,1084 712.5,1088 712.8,1096 L713,1222 C713,1228 716,1230 721,1230 L919,1230 C924,1230 926.3,1227 926.3,1222 L926.3,1092 C926.3,1086 929,1083 936,1083 L1190,1084 L1190,1066" fill="#fff" stroke="#000" stroke-width="5" stroke-linejoin="round"/>
<path d="M61,1065.8 L1529,1065" stroke="#000" stroke-width="5.2" fill="none"/>
<clipPath id="hc"><rect x="736.4" y="1066" width="166.10000000000002" height="144.29999999999995"/></clipPath>
<g clip-path="url(#hc)" stroke="#000" stroke-width="2.7"><path d="M431.0,1230 L612.8,1040"/><path d="M447.5,1230 L629.3,1040"/><path d="M464.0,1230 L645.8,1040"/><path d="M480.5,1230 L662.3,1040"/><path d="M497.0,1230 L678.8,1040"/><path d="M513.5,1230 L695.3,1040"/><path d="M530.0,1230 L711.8,1040"/><path d="M546.5,1230 L728.3,1040"/><path d="M563.0,1230 L744.8,1040"/><path d="M579.5,1230 L761.3,1040"/><path d="M596.0,1230 L777.8,1040"/><path d="M612.5,1230 L794.3,1040"/><path d="M629.0,1230 L810.8,1040"/><path d="M645.5,1230 L827.3,1040"/><path d="M662.0,1230 L843.8,1040"/><path d="M678.5,1230 L860.3,1040"/><path d="M695.0,1230 L876.8,1040"/><path d="M711.5,1230 L893.3,1040"/><path d="M728.0,1230 L909.8,1040"/><path d="M744.5,1230 L926.3,1040"/><path d="M761.0,1230 L942.8,1040"/><path d="M777.5,1230 L959.3,1040"/><path d="M794.0,1230 L975.8,1040"/><path d="M810.5,1230 L992.3,1040"/><path d="M827.0,1230 L1008.8,1040"/><path d="M843.5,1230 L1025.3,1040"/><path d="M860.0,1230 L1041.8,1040"/><path d="M876.5,1230 L1058.3,1040"/><path d="M893.0,1230 L1074.8,1040"/><path d="M909.5,1230 L1091.3,1040"/><path d="M926.0,1230 L1107.8,1040"/></g>
<path d="M736.4,1066 L736.4,1210.3 L902.5,1210.3 L902.5,1066" fill="none" stroke="#000" stroke-width="3.4"/>
<path d="M736.4,1066 L736.4,1211.3" stroke="#000" stroke-width="5.2"/>
<rect x="539" y="1155" width="42.5" height="51.5" fill="#fff"/><path d="M539,1155 L539,1206.5 M581.5,1155 L581.5,1206.5" stroke="#000" stroke-width="4.2"/><path d="M536.9,1206.5 L584.1,1206.5" stroke="#000" stroke-width="6"/><path d="M581.5,1155 L581.5,1206.5" stroke="#000" stroke-width="5.2"/><path d="M539,1165.3 L581.5,1162.3" stroke="#000" stroke-width="3.4"/><path d="M539,1177 L581.5,1174.2" stroke="#000" stroke-width="3.4"/><path d="M539,1189.3 L581.5,1187" stroke="#000" stroke-width="3.4"/><path d="M547.1,1172.1 L570.3,1170.6" stroke="#000" stroke-width="2.6" stroke-linecap="round"/><path d="M546.6,1184.5 L572.3,1182.4" stroke="#000" stroke-width="2.6" stroke-linecap="round"/><path d="M546.6,1196.3 L572.3,1194.2" stroke="#000" stroke-width="2.6" stroke-linecap="round"/>
<path d="M492.25,1084 L492.25,1143.3 L510,1158.3 L598.4,1158.3 L621.65,1144.3 L621.65,1084 Z" fill="#000"/><path d="M497.75,1086.5 L497.75,1143 C501.795,1148 509.885,1151 517.975,1151 C526.065,1151 534.1550000000001,1148 538.2,1143 L538.2,1086.5 Z" fill="#fff"/><path d="M542.8,1086.5 L542.8,1143 C546.4599999999999,1148 553.78,1151 561.0999999999999,1151 C568.42,1151 575.74,1148 579.4,1143 L579.4,1086.5 Z" fill="#fff"/><path d="M585.4,1086.5 L585.4,1142.6 C588.375,1147.6 594.3249999999999,1150.6 600.275,1150.6 C606.225,1150.6 612.175,1147.6 615.15,1142.6 L615.15,1086.5 Z" fill="#fff"/><path d="M532,1153.6 L539.5,1148.5 L547,1153.6 Z" fill="#fff"/><path d="M575,1153.6 L580.5,1149.3 L586,1153.6 Z" fill="#fff"/>
<rect x="1060.5" y="1156.5" width="41.799999999999955" height="54.799999999999955" fill="#fff"/><path d="M1060.5,1156.5 L1060.5,1211.3 M1102.3,1156.5 L1102.3,1211.3" stroke="#000" stroke-width="3"/><path d="M1059.0,1211.3 L1104.8,1211.3" stroke="#000" stroke-width="6"/><path d="M1102.3,1156.5 L1102.3,1211.3" stroke="#000" stroke-width="5"/><path d="M1060.5,1166.1 L1102.3,1162.2" stroke="#000" stroke-width="3.4"/><path d="M1060.5,1179.9 L1102.3,1176.6" stroke="#000" stroke-width="3.4"/><path d="M1060.5,1194.3 L1102.3,1191" stroke="#000" stroke-width="3.4"/><path d="M1067.2,1173.8 L1092.6,1171.3" stroke="#000" stroke-width="2.6" stroke-linecap="round"/><path d="M1068.3,1188 L1091,1185.7" stroke="#000" stroke-width="2.6" stroke-linecap="round"/><path d="M1066.3,1202.9 L1093.8,1199.6" stroke="#000" stroke-width="2.6" stroke-linecap="round"/>
<path d="M1014.8,1084 L1014.8,1144.4 L1031.8,1159.4 L1117.5,1159.4 L1141.1,1145.4 L1141.1,1084 Z" fill="#000"/><path d="M1018.8,1086.5 L1018.8,1143 C1021.92,1148 1028.1599999999999,1151 1034.4,1151 C1040.6399999999999,1151 1046.88,1148 1050.0,1143 L1050.0,1086.5 Z" fill="#fff"/><path d="M1053.8000000000002,1086.5 L1053.8000000000002,1145.6 C1058.5100000000002,1150.6 1067.93,1153.6 1077.35,1153.6 C1086.77,1153.6 1096.1899999999998,1150.6 1100.8999999999999,1145.6 L1100.8999999999999,1086.5 Z" fill="#fff"/><path d="M1107.3,1086.5 L1107.3,1140.5 C1109.96,1145.5 1115.28,1148.5 1120.6,1148.5 C1125.92,1148.5 1131.24,1145.5 1133.9,1140.5 L1133.9,1086.5 Z" fill="#fff"/><path d="M1041,1154.9 L1048.25,1149.3 L1055.5,1154.9 Z" fill="#fff"/><path d="M1095.8,1153.6 L1107.35,1148.5 L1118.9,1153.6 Z" fill="#fff"/>
<text transform="translate(1017.75,360.42) rotate(-1.32) scale(0.823,1)" x="-11.55" y="0" font-family="Liberation Sans" font-weight="bold" font-size="31.4" stroke="#000" stroke-width="0.97" stroke-linejoin="round">C</text><text transform="translate(1042.05,359.86) rotate(-1.32) scale(0.949,1)" x="-12.20" y="0" font-family="Liberation Sans" font-weight="bold" font-size="31.4" stroke="#000" stroke-width="0.84" stroke-linejoin="round">O</text><text transform="translate(1064.05,359.35) rotate(-1.32) scale(0.850,1)" x="-10.99" y="0" font-family="Liberation Sans" font-weight="bold" font-size="31.4" stroke="#000" stroke-width="0.94" stroke-linejoin="round">P</text><text transform="translate(1084.10,358.89) rotate(-1.32) scale(0.855,1)" x="-10.99" y="0" font-family="Liberation Sans" font-weight="bold" font-size="31.4" stroke="#000" stroke-width="0.94" stroke-linejoin="round">P</text><text transform="translate(1105.50,358.39) rotate(-1.32) scale(0.840,1)" x="-10.91" y="0" font-family="Liberation Sans" font-weight="bold" font-size="31.4" stroke="#000" stroke-width="0.95" stroke-linejoin="round">E</text><text transform="translate(1126.00,357.92) rotate(-1.32) scale(0.813,1)" x="-12.07" y="0" font-family="Liberation Sans" font-weight="bold" font-size="31.4" stroke="#000" stroke-width="0.98" stroke-linejoin="round">R</text><text transform="translate(1171.70,356.86) rotate(-1.32) scale(0.843,1)" x="-12.20" y="0" font-family="Liberation Sans" font-weight="bold" font-size="31.4" stroke="#000" stroke-width="0.95" stroke-linejoin="round">O</text><text transform="translate(1196.15,356.30) rotate(-1.32) scale(0.888,1)" x="-12.07" y="0" font-family="Liberation Sans" font-weight="bold" font-size="31.4" stroke="#000" stroke-width="0.90" stroke-linejoin="round">R</text>
<text transform="translate(1011.10,399.00) rotate(-1.13) scale(0.825,1)" x="-11.68" y="0" font-family="Liberation Sans" font-weight="bold" font-size="31.4" stroke="#000" stroke-width="0.97" stroke-linejoin="round">B</text><text transform="translate(1032.70,398.57) rotate(-1.13) scale(0.813,1)" x="-12.07" y="0" font-family="Liberation Sans" font-weight="bold" font-size="31.4" stroke="#000" stroke-width="0.98" stroke-linejoin="round">R</text><text transform="translate(1052.55,398.18) rotate(-1.13) scale(0.850,1)" x="-11.32" y="0" font-family="Liberation Sans" font-weight="bold" font-size="31.4" stroke="#000" stroke-width="0.94" stroke-linejoin="round">A</text><text transform="translate(1073.60,397.76) rotate(-1.13) scale(0.840,1)" x="-10.31" y="0" font-family="Liberation Sans" font-weight="bold" font-size="31.4" stroke="#000" stroke-width="0.95" stroke-linejoin="round">S</text><text transform="translate(1093.60,397.36) rotate(-1.13) scale(0.840,1)" x="-10.31" y="0" font-family="Liberation Sans" font-weight="bold" font-size="31.4" stroke="#000" stroke-width="0.95" stroke-linejoin="round">S</text><text transform="translate(1127.35,396.70) rotate(-1.13) scale(1.065,1)" x="-9.60" y="0" font-family="Liberation Sans" font-weight="bold" font-size="31.4" stroke="#000" stroke-width="0.75" stroke-linejoin="round">T</text><text transform="translate(1149.50,396.26) rotate(-1.13) scale(0.858,1)" x="-11.32" y="0" font-family="Liberation Sans" font-weight="bold" font-size="31.4" stroke="#000" stroke-width="0.93" stroke-linejoin="round">U</text><text transform="translate(1172.60,395.80) rotate(-1.13) scale(0.836,1)" x="-11.68" y="0" font-family="Liberation Sans" font-weight="bold" font-size="31.4" stroke="#000" stroke-width="0.96" stroke-linejoin="round">B</text><text transform="translate(1193.55,395.39) rotate(-1.13) scale(0.891,1)" x="-10.91" y="0" font-family="Liberation Sans" font-weight="bold" font-size="31.4" stroke="#000" stroke-width="0.90" stroke-linejoin="round">E</text>
<text transform="translate(1164.20,709.80) rotate(0.00) scale(0.829,1)" x="-10.91" y="0" font-family="Liberation Sans" font-weight="bold" font-size="31.4" stroke="#000" stroke-width="0.97" stroke-linejoin="round">E</text><text transform="translate(1185.95,709.80) rotate(0.00) scale(0.839,1)" x="-10.49" y="0" font-family="Liberation Sans" font-weight="bold" font-size="31.4" stroke="#000" stroke-width="0.95" stroke-linejoin="round">Y</text><text transform="translate(1206.40,709.80) rotate(0.00) scale(0.863,1)" x="-10.91" y="0" font-family="Liberation Sans" font-weight="bold" font-size="31.4" stroke="#000" stroke-width="0.93" stroke-linejoin="round">E</text><text transform="translate(1227.15,709.80) rotate(0.00) scale(0.789,1)" x="-11.68" y="0" font-family="Liberation Sans" font-weight="bold" font-size="31.4" stroke="#000" stroke-width="1.01" stroke-linejoin="round">B</text><text transform="translate(1248.65,709.80) rotate(0.00) scale(0.912,1)" x="-12.20" y="0" font-family="Liberation Sans" font-weight="bold" font-size="31.4" stroke="#000" stroke-width="0.88" stroke-linejoin="round">O</text><text transform="translate(1270.70,709.80) rotate(0.00) scale(0.807,1)" x="-10.16" y="0" font-family="Liberation Sans" font-weight="bold" font-size="31.4" stroke="#000" stroke-width="0.99" stroke-linejoin="round">L</text><text transform="translate(1291.40,709.80) rotate(0.00) scale(1.049,1)" x="-9.60" y="0" font-family="Liberation Sans" font-weight="bold" font-size="31.4" stroke="#000" stroke-width="0.76" stroke-linejoin="round">T</text>
<text transform="translate(1323.42,310.69) rotate(-44.50) scale(0.860,1)" x="-10.07" y="0" font-family="Liberation Sans" font-weight="bold" font-size="27.9" stroke="#000" stroke-width="0.93" stroke-linejoin="round">N</text>
<text transform="translate(1338.61,295.76) rotate(-44.50) scale(0.950,1)" x="-9.54" y="0" font-family="Liberation Sans" font-weight="bold" font-size="31.248" stroke="#000" stroke-width="0.84" stroke-linejoin="round">o</text>
<text transform="translate(1351.88,282.73) rotate(-44.50) scale(0.860,1)" x="-3.86" y="0" font-family="Liberation Sans" font-weight="bold" font-size="27.9" stroke="#000" stroke-width="0.93" stroke-linejoin="round">.</text>
<text transform="translate(1374.63,260.37) rotate(-44.50) scale(0.860,1)" x="-8.25" y="0" font-family="Liberation Sans" font-weight="bold" font-size="27.9" stroke="#000" stroke-width="0.93" stroke-linejoin="round">1</text>
<text transform="translate(1387.26,247.96) rotate(-44.50) scale(0.860,1)" x="-7.77" y="0" font-family="Liberation Sans" font-weight="bold" font-size="27.9" stroke="#000" stroke-width="0.93" stroke-linejoin="round">8</text>
<text transform="translate(1407.65,227.91) rotate(-44.50) scale(0.860,1)" x="-9.76" y="0" font-family="Liberation Sans" font-weight="bold" font-size="27.9" stroke="#000" stroke-width="0.93" stroke-linejoin="round">P</text>
<text transform="translate(1420.64,215.16) rotate(-44.50) scale(0.860,1)" x="-3.88" y="0" font-family="Liberation Sans" font-weight="bold" font-size="27.9" stroke="#000" stroke-width="0.93" stroke-linejoin="round">I</text>
<text transform="translate(1431.41,204.57) rotate(-44.50) scale(0.860,1)" x="-10.05" y="0" font-family="Liberation Sans" font-weight="bold" font-size="27.9" stroke="#000" stroke-width="0.93" stroke-linejoin="round">A</text>
<text transform="translate(1446.60,189.64) rotate(-44.50) scale(0.860,1)" x="-10.07" y="0" font-family="Liberation Sans" font-weight="bold" font-size="27.9" stroke="#000" stroke-width="0.93" stroke-linejoin="round">N</text>
<text transform="translate(1463.64,172.89) rotate(-44.50) scale(0.860,1)" x="-10.84" y="0" font-family="Liberation Sans" font-weight="bold" font-size="27.9" stroke="#000" stroke-width="0.93" stroke-linejoin="round">O</text>
<text transform="translate(1490.32,146.68) rotate(-44.50) scale(0.860,1)" x="-13.17" y="0" font-family="Liberation Sans" font-weight="bold" font-size="27.9" stroke="#000" stroke-width="0.93" stroke-linejoin="round">W</text>
<text transform="translate(1505.87,131.40) rotate(-44.50) scale(0.860,1)" x="-3.88" y="0" font-family="Liberation Sans" font-weight="bold" font-size="27.9" stroke="#000" stroke-width="0.93" stroke-linejoin="round">I</text>
<text transform="translate(1515.43,122.01) rotate(-44.50) scale(0.860,1)" x="-10.72" y="0" font-family="Liberation Sans" font-weight="bold" font-size="27.9" stroke="#000" stroke-width="0.93" stroke-linejoin="round">R</text>
<text transform="translate(1531.83,105.89) rotate(-44.50) scale(0.860,1)" x="-9.69" y="0" font-family="Liberation Sans" font-weight="bold" font-size="27.9" stroke="#000" stroke-width="0.93" stroke-linejoin="round">E</text>
<path d="M686.5,382.5 L692,382.5" stroke="#000" stroke-width="1.6"/>
<path d="M604,90 L608,90 L606,92.5 Z" fill="#000"/></svg></body></html>
